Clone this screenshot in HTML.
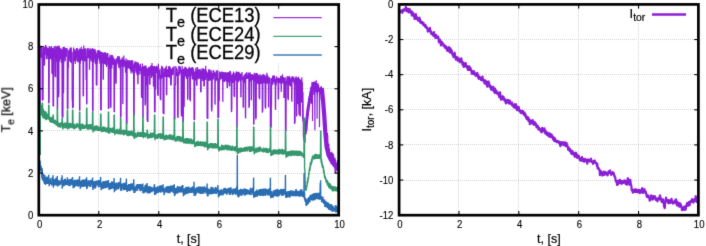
<!DOCTYPE html>
<html><head><meta charset="utf-8"><title>Te and Itor</title>
<style>html,body{margin:0;padding:0;background:#fff;width:706px;height:246px;overflow:hidden}svg{display:block}</style>
</head><body>
<svg width="706" height="246" viewBox="0 0 706 246"><style>
.g{stroke:#d4d4d4;stroke-width:1;stroke-dasharray:1 1;fill:none}
.t{stroke:#000;stroke-width:1.1}
.f{stroke:#000;stroke-width:2.7;fill:none}
text{font-family:"Liberation Sans",sans-serif;fill:#000;stroke:#000;stroke-width:0.2px}
.tl{font-size:9.6px;stroke-width:0.1px}
.al{font-size:12.5px}
.lg{font-size:18.4px;stroke-width:0.25px}
</style><defs><filter id="bl" x="0" y="0" width="706" height="246" filterUnits="userSpaceOnUse"><feConvolveMatrix color-interpolation-filters="sRGB" order="3" kernelMatrix="0.01 0.08 0.01 0.08 0.64 0.08 0.01 0.08 0.01" divisor="1" edgeMode="duplicate"/></filter></defs><g filter="url(#bl)"><rect width="706" height="246" fill="#fff"/><line x1="98.50" y1="5.00" x2="98.50" y2="215.20" class="g"/><line x1="158.50" y1="5.00" x2="158.50" y2="215.20" class="g"/><line x1="218.50" y1="5.00" x2="218.50" y2="215.20" class="g"/><line x1="278.50" y1="5.00" x2="278.50" y2="215.20" class="g"/><line x1="39.00" y1="173.50" x2="338.70" y2="173.50" class="g"/><line x1="39.00" y1="130.50" x2="338.70" y2="130.50" class="g"/><line x1="39.00" y1="88.50" x2="338.70" y2="88.50" class="g"/><line x1="39.00" y1="46.50" x2="338.70" y2="46.50" class="g"/><line x1="458.50" y1="5.00" x2="458.50" y2="215.20" class="g"/><line x1="518.50" y1="5.00" x2="518.50" y2="215.20" class="g"/><line x1="578.50" y1="5.00" x2="578.50" y2="215.20" class="g"/><line x1="638.50" y1="5.00" x2="638.50" y2="215.20" class="g"/><line x1="400.00" y1="39.50" x2="698.40" y2="39.50" class="g"/><line x1="400.00" y1="74.50" x2="698.40" y2="74.50" class="g"/><line x1="400.00" y1="109.50" x2="698.40" y2="109.50" class="g"/><line x1="400.00" y1="144.50" x2="698.40" y2="144.50" class="g"/><line x1="400.00" y1="180.50" x2="698.40" y2="180.50" class="g"/><rect x="162" y="5" width="175.5" height="58.5" fill="#fff"/><rect x="625" y="5" width="72.5" height="17.5" fill="#fff"/><clipPath id="cl"><rect x="38.8" y="4.5" width="299.9" height="210.7"/></clipPath><g clip-path="url(#cl)" fill="none" stroke-linejoin="miter" stroke-miterlimit="1"><polyline points="40.3,104 40.10,52.41 40.22,54.94 40.35,50.83 40.47,49.94 40.60,45.76 40.72,49.31 40.85,53.19 40.97,45.67 41.09,53.14 41.22,57.30 41.34,57.63 41.47,50.60 41.59,46.30 41.72,47.42 41.84,48.91 41.97,59.37 42.09,47.97 42.21,100.03 42.34,99.55 42.46,98.82 42.59,100.64 42.71,99.47 42.84,100.04 42.96,100.14 43.08,99.13 43.21,54.99 43.33,54.56 43.46,45.67 43.58,51.35 43.71,49.14 43.83,59.89 43.95,49.72 44.08,53.72 44.20,57.54 44.33,49.09 44.45,65.30 44.58,65.44 44.70,46.79 44.83,59.14 44.95,47.86 45.07,53.55 45.20,51.11 45.32,46.71 45.45,53.44 45.57,46.08 45.70,44.93 45.82,54.76 45.94,49.12 46.07,53.31 46.19,46.34 46.32,53.92 46.44,52.90 46.57,59.33 46.69,47.37 46.81,59.08 46.94,58.17 47.06,47.98 47.19,48.31 47.31,49.92 47.44,49.23 47.56,55.73 47.68,48.55 47.81,53.11 47.93,47.77 48.06,48.81 48.18,49.71 48.31,58.73 48.43,48.95 48.56,51.29 48.68,103.19 48.80,103.10 48.93,102.73 49.05,102.11 49.18,102.05 49.30,46.00 49.43,47.32 49.55,48.63 49.67,51.00 49.80,46.79 49.92,50.11 50.05,59.32 50.17,47.43 50.30,58.08 50.42,54.73 50.54,56.24 50.67,58.68 50.79,48.21 50.92,52.83 51.04,56.10 51.17,52.69 51.29,49.23 51.42,45.96 51.54,59.51 51.66,52.99 51.79,52.93 51.91,72.52 52.04,73.10 52.16,73.73 52.29,73.85 52.41,49.25 52.53,47.87 52.66,55.45 52.78,52.33 52.91,52.26 53.03,105.77 53.16,105.93 53.28,105.81 53.40,105.68 53.53,106.51 53.65,59.90 53.78,48.98 53.90,47.67 54.03,57.97 54.15,50.93 54.28,55.92 54.40,46.32 54.52,52.32 54.65,51.19 54.77,49.80 54.90,49.71 55.02,75.58 55.15,76.53 55.27,75.96 55.39,76.26 55.52,77.22 55.64,76.63 55.77,45.78 55.89,49.41 56.02,62.07 56.14,56.36 56.26,55.10 56.39,49.67 56.51,49.65 56.64,46.77 56.76,47.10 56.89,48.24 57.01,46.72 57.14,48.07 57.26,107.70 57.38,108.55 57.51,107.74 57.63,109.15 57.76,56.61 57.88,51.64 58.01,45.65 58.13,47.44 58.25,46.44 58.38,46.57 58.50,93.07 58.63,97.21 58.75,93.93 58.88,93.99 59.00,51.23 59.12,45.64 59.25,51.51 59.37,47.38 59.50,61.37 59.62,49.69 59.75,55.90 59.87,50.58 59.99,51.04 60.12,51.68 60.24,48.04 60.37,50.56 60.49,59.58 60.62,56.02 60.74,57.87 60.87,49.41 60.99,58.23 61.11,57.41 61.24,52.91 61.36,62.88 61.49,51.30 61.61,53.98 61.74,48.69 61.86,49.76 61.98,61.40 62.11,115.58 62.23,117.17 62.36,116.89 62.48,115.78 62.61,117.27 62.73,115.67 62.85,117.34 62.98,117.55 63.10,47.06 63.23,56.75 63.35,91.49 63.48,93.27 63.60,90.45 63.73,51.27 63.85,62.99 63.97,55.44 64.10,49.02 64.22,46.80 64.35,53.64 64.47,47.43 64.60,52.89 64.72,47.51 64.84,49.04 64.97,54.48 65.09,56.26 65.22,61.13 65.34,57.51 65.47,53.35 65.59,56.25 65.71,48.17 65.84,51.42 65.96,55.21 66.09,53.03 66.21,50.87 66.34,50.73 66.46,53.93 66.59,54.84 66.71,48.06 66.83,57.29 66.96,48.58 67.08,48.57 67.21,48.52 67.33,108.00 67.46,108.18 67.58,108.88 67.70,108.80 67.83,108.04 67.95,108.89 68.08,68.37 68.20,68.39 68.33,67.97 68.45,68.17 68.57,51.25 68.70,50.22 68.82,53.39 68.95,56.73 69.07,56.06 69.20,52.30 69.32,57.69 69.45,49.19 69.57,54.19 69.69,55.21 69.82,60.81 69.94,60.94 70.07,55.65 70.19,47.95 70.32,56.09 70.44,47.44 70.56,62.48 70.69,48.70 70.81,53.21 70.94,52.88 71.06,50.89 71.19,54.56 71.31,47.53 71.43,59.09 71.56,57.24 71.68,63.18 71.81,52.26 71.93,57.58 72.06,51.69 72.18,98.81 72.30,101.03 72.43,99.13 72.55,108.18 72.68,107.24 72.80,108.27 72.93,107.14 73.05,107.64 73.18,106.97 73.30,106.75 73.42,57.74 73.55,47.57 73.67,50.47 73.80,60.51 73.92,54.13 74.05,53.85 74.17,61.30 74.29,49.16 74.42,51.55 74.54,51.98 74.67,56.61 74.79,60.56 74.92,53.26 75.04,58.90 75.16,57.53 75.29,64.09 75.41,52.90 75.54,54.84 75.66,55.71 75.79,49.87 75.91,61.27 76.04,51.52 76.16,49.11 76.28,53.98 76.41,48.97 76.53,48.19 76.66,56.88 76.78,51.44 76.91,57.71 77.03,55.50 77.15,47.95 77.28,58.08 77.40,61.29 77.53,48.94 77.65,55.51 77.78,51.08 77.90,62.22 78.02,55.00 78.15,53.69 78.27,51.08 78.40,52.52 78.52,57.40 78.65,51.09 78.77,50.95 78.90,57.26 79.02,51.23 79.14,62.37 79.27,48.58 79.39,56.77 79.52,109.34 79.64,109.82 79.77,110.59 79.89,109.80 80.01,51.31 80.14,49.00 80.26,56.13 80.39,63.39 80.51,50.62 80.64,53.92 80.76,53.16 80.88,48.19 81.01,54.02 81.13,60.84 81.26,46.83 81.38,52.91 81.51,53.55 81.63,57.18 81.76,57.69 81.88,60.42 82.00,51.00 82.13,56.61 82.25,57.60 82.38,55.79 82.50,49.01 82.63,56.32 82.75,54.85 82.87,59.95 83.00,55.46 83.12,94.63 83.25,96.45 83.37,94.75 83.50,95.96 83.62,57.95 83.74,45.53 83.87,48.57 83.99,55.49 84.12,48.81 84.24,61.44 84.37,55.29 84.49,50.44 84.61,55.11 84.74,50.99 84.86,57.79 84.99,51.27 85.11,53.52 85.24,48.14 85.36,52.44 85.49,61.12 85.61,49.21 85.73,52.60 85.86,58.01 85.98,63.24 86.11,80.06 86.23,79.49 86.36,79.87 86.48,79.61 86.60,104.05 86.73,104.04 86.85,103.70 86.98,103.87 87.10,49.62 87.23,48.33 87.35,53.35 87.47,49.98 87.60,48.50 87.72,58.19 87.85,50.45 87.97,54.22 88.10,47.93 88.22,49.06 88.35,57.68 88.47,58.14 88.59,54.41 88.72,58.22 88.84,53.35 88.97,54.86 89.09,49.89 89.22,50.71 89.34,52.37 89.46,69.77 89.59,69.49 89.71,54.43 89.84,48.87 89.96,59.04 90.09,49.50 90.21,48.17 90.33,57.03 90.46,59.50 90.58,53.11 90.71,49.81 90.83,55.75 90.96,51.90 91.08,50.29 91.21,61.55 91.33,52.68 91.45,50.85 91.58,54.23 91.70,48.92 91.83,57.70 91.95,51.82 92.08,49.88 92.20,57.61 92.32,48.14 92.45,50.58 92.57,110.59 92.70,111.27 92.82,111.27 92.95,110.75 93.07,110.11 93.19,52.64 93.32,56.97 93.44,50.66 93.57,48.88 93.69,50.67 93.82,51.09 93.94,62.52 94.07,49.07 94.19,55.09 94.31,59.29 94.44,55.06 94.56,50.67 94.69,54.63 94.81,58.50 94.94,55.56 95.06,49.38 95.18,50.55 95.31,53.33 95.43,64.28 95.56,59.84 95.68,56.35 95.81,50.72 95.93,55.43 96.05,59.21 96.18,56.79 96.30,83.83 96.43,85.10 96.55,83.38 96.68,85.66 96.80,82.67 96.92,85.10 97.05,53.83 97.17,53.26 97.30,63.97 97.42,55.97 97.55,60.80 97.67,50.59 97.80,52.70 97.92,53.79 98.04,57.13 98.17,52.96 98.29,55.36 98.42,53.82 98.54,50.12 98.67,52.06 98.79,57.89 98.91,55.09 99.04,55.59 99.16,59.93 99.29,55.57 99.41,50.77 99.54,51.09 99.66,52.27 99.78,63.59 99.91,57.11 100.03,53.70 100.16,55.09 100.28,56.36 100.41,51.37 100.53,51.83 100.66,109.95 100.78,109.63 100.90,110.32 101.03,109.50 101.15,110.28 101.28,109.60 101.40,54.12 101.53,52.12 101.65,63.69 101.77,55.32 101.90,52.37 102.02,63.01 102.15,52.51 102.27,59.85 102.40,52.68 102.52,52.42 102.64,55.89 102.77,54.78 102.89,62.26 103.02,59.56 103.14,79.50 103.27,79.44 103.39,79.58 103.52,54.52 103.64,62.03 103.76,52.45 103.89,60.62 104.01,55.56 104.14,60.14 104.26,63.34 104.39,58.46 104.51,63.44 104.63,63.74 104.76,54.90 104.88,54.05 105.01,52.10 105.13,56.86 105.26,52.52 105.38,53.52 105.50,54.19 105.63,65.04 105.75,56.59 105.88,53.57 106.00,62.12 106.13,58.34 106.25,56.60 106.38,57.61 106.50,56.97 106.62,67.07 106.75,59.74 106.87,60.69 107.00,54.82 107.12,53.01 107.25,60.81 107.37,53.45 107.49,54.48 107.62,53.64 107.74,59.87 107.87,53.09 107.99,65.27 108.12,60.38 108.24,56.91 108.36,108.80 108.49,108.09 108.61,108.22 108.74,108.38 108.86,108.15 108.99,107.87 109.11,64.07 109.23,57.76 109.36,58.15 109.48,68.83 109.61,60.00 109.73,60.64 109.86,55.70 109.98,57.03 110.11,54.47 110.23,67.16 110.35,57.94 110.48,56.78 110.60,106.60 110.73,102.90 110.85,108.05 110.98,105.00 111.10,58.03 111.22,60.19 111.35,61.35 111.47,58.20 111.60,54.97 111.72,56.58 111.85,68.42 111.97,55.38 112.09,57.15 112.22,58.51 112.34,54.92 112.47,58.49 112.59,63.55 112.72,62.67 112.84,56.19 112.97,56.92 113.09,62.44 113.21,64.91 113.34,58.21 113.46,61.60 113.59,64.75 113.71,57.79 113.84,61.41 113.96,60.51 114.08,112.07 114.21,111.46 114.33,111.96 114.46,112.00 114.58,61.05 114.71,59.24 114.83,59.45 114.95,60.87 115.08,67.42 115.20,60.86 115.33,63.91 115.45,64.53 115.58,68.31 115.70,63.16 115.83,83.47 115.95,83.69 116.07,82.70 116.20,82.84 116.32,58.31 116.45,66.47 116.57,58.94 116.70,62.77 116.82,64.25 116.94,60.78 117.07,61.91 117.19,59.96 117.32,57.81 117.44,59.77 117.57,61.14 117.69,58.46 117.81,56.11 117.94,56.63 118.06,56.73 118.19,59.81 118.31,63.64 118.44,64.35 118.56,60.25 118.69,60.78 118.81,68.11 118.93,64.24 119.06,61.76 119.18,57.85 119.31,56.27 119.43,60.03 119.56,58.25 119.68,58.45 119.80,60.05 119.93,65.70 120.05,66.65 120.18,60.38 120.30,70.03 120.43,59.75 120.55,117.71 120.67,116.18 120.80,116.65 120.92,116.03 121.05,116.92 121.17,59.89 121.30,60.48 121.42,65.45 121.54,60.61 121.67,59.23 121.79,65.56 121.92,64.15 122.04,65.61 122.17,57.25 122.29,64.02 122.42,64.44 122.54,67.15 122.66,66.94 122.79,104.06 122.91,103.36 123.04,62.52 123.16,66.29 123.29,59.10 123.41,66.87 123.53,66.56 123.66,60.03 123.78,55.46 123.91,60.09 124.03,67.31 124.16,59.22 124.28,62.13 124.40,61.91 124.53,61.55 124.65,64.86 124.78,60.76 124.90,61.14 125.03,65.81 125.15,62.28 125.28,60.79 125.40,64.07 125.52,72.18 125.65,72.52 125.77,62.54 125.90,69.31 126.02,59.58 126.15,58.40 126.27,69.17 126.39,123.38 126.52,124.04 126.64,123.56 126.77,122.43 126.89,122.51 127.02,123.67 127.14,66.89 127.26,63.23 127.39,62.26 127.51,61.51 127.64,59.68 127.76,68.61 127.89,61.44 128.01,67.81 128.14,61.47 128.26,62.89 128.38,62.15 128.51,67.69 128.63,60.24 128.76,68.35 128.88,60.88 129.01,61.22 129.13,65.02 129.25,65.53 129.38,67.52 129.50,68.41 129.63,68.68 129.75,66.27 129.88,66.77 130.00,60.19 130.12,61.25 130.25,62.14 130.37,63.32 130.50,70.78 130.62,63.64 130.75,61.08 130.87,63.84 131.00,73.51 131.12,69.32 131.24,62.65 131.37,68.55 131.49,67.36 131.62,61.79 131.74,60.13 131.87,62.30 131.99,71.12 132.11,71.59 132.24,71.19 132.36,67.17 132.49,68.77 132.61,66.61 132.74,60.57 132.86,61.11 132.98,73.57 133.11,67.73 133.23,68.15 133.36,64.52 133.48,66.12 133.61,74.78 133.73,115.62 133.85,115.16 133.98,114.05 134.10,114.37 134.23,115.47 134.35,67.95 134.48,63.34 134.60,72.62 134.73,66.49 134.85,62.17 134.97,68.09 135.10,66.49 135.22,61.26 135.35,65.82 135.47,67.24 135.60,68.19 135.72,62.88 135.84,67.30 135.97,67.89 136.09,72.79 136.22,61.65 136.34,68.03 136.47,66.95 136.59,68.53 136.71,66.92 136.84,63.30 136.96,72.86 137.09,75.20 137.21,64.92 137.34,66.29 137.46,64.42 137.59,74.22 137.71,62.01 137.83,84.22 137.96,83.32 138.08,82.99 138.21,66.37 138.33,63.06 138.46,71.58 138.58,70.03 138.70,71.95 138.83,64.34 138.95,66.51 139.08,72.40 139.20,74.77 139.33,68.10 139.45,65.55 139.57,67.89 139.70,70.11 139.82,68.46 139.95,67.05 140.07,65.81 140.20,71.08 140.32,68.51 140.45,63.87 140.57,69.77 140.69,66.75 140.82,71.46 140.94,74.30 141.07,68.71 141.19,67.27 141.32,68.71 141.44,96.52 141.56,95.48 141.69,97.92 141.81,74.33 141.94,73.74 142.06,76.02 142.19,70.92 142.31,72.35 142.43,63.49 142.56,71.91 142.68,72.47 142.81,116.68 142.93,117.21 143.06,116.87 143.18,117.16 143.31,66.36 143.43,68.30 143.55,68.91 143.68,71.11 143.80,66.34 143.93,71.42 144.05,75.99 144.18,72.82 144.30,65.76 144.42,71.54 144.55,74.86 144.67,71.77 144.80,67.78 144.92,66.24 145.05,105.25 145.17,105.22 145.29,103.56 145.42,103.32 145.54,102.83 145.67,70.02 145.79,65.23 145.92,74.10 146.04,67.07 146.16,67.26 146.29,74.33 146.41,68.38 146.54,76.99 146.66,72.87 146.79,85.20 146.91,84.93 147.04,68.40 147.16,120.65 147.28,120.43 147.41,120.61 147.53,120.29 147.66,121.89 147.78,121.24 147.91,121.91 148.03,68.28 148.15,71.33 148.28,74.43 148.40,71.83 148.53,67.00 148.65,67.53 148.78,68.97 148.90,73.00 149.02,75.02 149.15,67.89 149.27,76.04 149.40,67.40 149.52,84.36 149.65,84.27 149.77,84.18 149.90,83.84 150.02,84.79 150.14,70.47 150.27,66.20 150.39,74.31 150.52,71.81 150.64,65.42 150.77,74.35 150.89,65.40 151.01,74.48 151.14,66.79 151.26,71.17 151.39,71.89 151.51,78.01 151.64,66.77 151.76,72.94 151.88,68.71 152.01,63.00 152.13,71.54 152.26,70.41 152.38,71.27 152.51,68.90 152.63,70.87 152.76,76.13 152.88,69.80 153.00,66.08 153.13,68.09 153.25,67.90 153.38,86.25 153.50,86.36 153.63,66.54 153.75,67.95 153.87,78.17 154.00,72.15 154.12,71.18 154.25,75.75 154.37,66.12 154.50,111.95 154.62,111.59 154.74,112.52 154.87,110.73 154.99,111.91 155.12,111.74 155.24,69.41 155.37,69.61 155.49,66.42 155.62,87.82 155.74,89.49 155.86,71.00 155.99,69.35 156.11,71.60 156.24,66.73 156.36,67.15 156.49,68.20 156.61,70.82 156.73,65.65 156.86,69.35 156.98,73.01 157.11,68.16 157.23,66.73 157.36,72.84 157.48,68.40 157.60,93.04 157.73,95.18 157.85,94.55 157.98,94.80 158.10,95.93 158.23,93.49 158.35,63.73 158.47,70.97 158.60,70.59 158.72,79.21 158.85,75.19 158.97,71.92 159.10,70.28 159.22,71.92 159.35,74.60 159.47,72.85 159.59,70.74 159.72,72.15 159.84,74.45 159.97,68.41 160.09,78.62 160.22,97.46 160.34,98.28 160.46,99.56 160.59,99.99 160.71,99.70 160.84,99.81 160.96,74.69 161.09,76.07 161.21,77.10 161.33,79.10 161.46,73.34 161.58,67.26 161.71,65.86 161.83,72.05 161.96,70.81 162.08,77.62 162.21,71.56 162.33,73.25 162.45,77.45 162.58,68.47 162.70,66.79 162.83,71.13 162.95,74.37 163.08,112.85 163.20,112.86 163.32,112.36 163.45,113.93 163.57,112.66 163.70,114.09 163.82,112.55 163.95,114.03 164.07,77.84 164.19,68.68 164.32,68.97 164.44,68.49 164.57,76.62 164.69,71.09 164.82,68.69 164.94,75.21 165.07,69.25 165.19,77.00 165.31,68.44 165.44,73.11 165.56,76.37 165.69,73.27 165.81,67.24 165.94,67.20 166.06,74.30 166.18,74.75 166.31,65.81 166.43,94.20 166.56,94.71 166.68,95.03 166.81,94.32 166.93,72.94 167.05,69.35 167.18,76.32 167.30,74.30 167.43,74.18 167.55,72.07 167.68,70.85 167.80,70.04 167.93,71.66 168.05,77.03 168.17,73.41 168.30,70.27 168.42,66.62 168.55,71.92 168.67,72.77 168.80,75.05 168.92,77.35 169.04,66.64 169.17,73.12 169.29,65.98 169.42,66.78 169.54,73.29 169.67,71.61 169.79,71.90 169.91,66.63 170.04,71.13 170.16,78.79 170.29,73.60 170.41,67.68 170.54,74.18 170.66,84.80 170.78,84.63 170.91,84.23 171.03,84.68 171.16,85.24 171.28,85.29 171.41,76.33 171.53,73.77 171.66,68.86 171.78,70.94 171.90,70.79 172.03,73.26 172.15,71.93 172.28,73.17 172.40,73.18 172.53,67.80 172.65,75.28 172.77,67.37 172.90,73.99 173.02,68.17 173.15,69.37 173.27,69.35 173.40,70.72 173.52,67.55 173.64,71.60 173.77,67.96 173.89,72.30 174.02,73.73 174.14,66.05 174.27,118.78 174.39,119.53 174.52,118.33 174.64,118.09 174.76,119.29 174.89,118.95 175.01,84.06 175.14,85.10 175.26,84.34 175.39,85.07 175.51,84.35 175.63,84.10 175.76,67.62 175.88,66.37 176.01,69.92 176.13,68.16 176.26,70.42 176.38,71.58 176.50,75.88 176.63,74.58 176.75,67.74 176.88,75.31 177.00,70.42 177.13,68.94 177.25,72.62 177.38,77.26 177.50,76.67 177.62,114.87 177.75,117.42 177.87,117.01 178.00,117.82 178.12,116.94 178.25,72.82 178.37,72.15 178.49,74.38 178.62,72.93 178.74,72.26 178.87,66.27 178.99,66.02 179.12,75.34 179.24,74.13 179.36,70.25 179.49,71.03 179.61,66.04 179.74,67.04 179.86,69.69 179.99,67.64 180.11,72.03 180.24,66.55 180.36,73.02 180.48,67.45 180.61,72.62 180.73,70.14 180.86,70.04 180.98,74.85 181.11,69.84 181.23,111.09 181.35,113.24 181.48,116.41 181.60,114.78 181.73,113.06 181.85,115.98 181.98,75.73 182.10,69.37 182.22,65.96 182.35,76.54 182.47,69.49 182.60,75.82 182.72,69.21 182.85,122.23 182.97,121.10 183.09,121.08 183.22,121.80 183.34,122.25 183.47,69.02 183.59,69.15 183.72,75.01 183.84,70.88 183.97,105.88 184.09,106.99 184.21,106.00 184.34,77.27 184.46,69.80 184.59,72.38 184.71,70.57 184.84,66.89 184.96,67.71 185.08,73.75 185.21,76.37 185.33,76.02 185.46,74.56 185.58,67.10 185.71,73.91 185.83,75.01 185.95,71.30 186.08,69.09 186.20,72.90 186.33,67.64 186.45,78.74 186.58,69.20 186.70,72.12 186.83,78.89 186.95,74.18 187.07,69.00 187.20,71.86 187.32,72.07 187.45,75.23 187.57,99.86 187.70,98.81 187.82,96.98 187.94,98.61 188.07,68.48 188.19,74.49 188.32,68.68 188.44,71.95 188.57,73.44 188.69,74.05 188.81,74.65 188.94,69.77 189.06,76.78 189.19,67.04 189.31,67.02 189.44,71.30 189.56,74.89 189.69,70.11 189.81,100.09 189.93,99.13 190.06,98.46 190.18,100.63 190.31,98.98 190.43,101.36 190.56,67.98 190.68,74.31 190.80,68.61 190.93,75.78 191.05,69.78 191.18,72.06 191.30,73.59 191.43,71.29 191.55,72.27 191.67,72.58 191.80,73.19 191.92,67.12 192.05,67.78 192.17,73.67 192.30,79.05 192.42,69.48 192.55,75.10 192.67,67.97 192.79,67.27 192.92,79.66 193.04,68.34 193.17,77.04 193.29,70.37 193.42,68.62 193.54,69.85 193.66,70.99 193.79,72.54 193.91,72.88 194.04,119.13 194.16,120.26 194.29,119.21 194.41,118.95 194.53,119.76 194.66,119.22 194.78,78.34 194.91,71.59 195.03,71.69 195.16,77.34 195.28,74.95 195.41,80.45 195.53,71.89 195.65,75.81 195.78,67.76 195.90,75.21 196.03,71.62 196.15,70.47 196.28,75.27 196.40,72.17 196.52,85.06 196.65,85.40 196.77,84.90 196.90,85.08 197.02,85.62 197.15,70.57 197.27,67.06 197.39,72.01 197.52,67.84 197.64,69.12 197.77,72.23 197.89,78.68 198.02,68.88 198.14,74.19 198.26,72.43 198.39,76.56 198.51,79.23 198.64,75.56 198.76,77.73 198.89,77.78 199.01,75.66 199.14,70.10 199.26,76.33 199.38,72.58 199.51,76.18 199.63,78.59 199.76,68.96 199.88,69.15 200.01,69.84 200.13,70.31 200.25,69.65 200.38,71.13 200.50,74.07 200.63,92.02 200.75,92.01 200.88,91.27 201.00,92.31 201.12,91.09 201.25,75.38 201.37,70.66 201.50,76.28 201.62,79.01 201.75,71.56 201.87,70.95 202.00,68.38 202.12,74.00 202.24,70.94 202.37,72.58 202.49,76.19 202.62,69.51 202.74,81.06 202.87,73.01 202.99,74.29 203.11,69.22 203.24,75.46 203.36,68.31 203.49,72.89 203.61,70.10 203.74,71.85 203.86,85.99 203.98,86.35 204.11,86.06 204.23,85.57 204.36,85.87 204.48,74.47 204.61,77.92 204.73,69.02 204.86,76.84 204.98,73.13 205.10,79.47 205.23,76.02 205.35,74.22 205.48,75.47 205.60,79.89 205.73,65.68 205.85,76.31 205.97,74.27 206.10,70.11 206.22,71.04 206.35,71.86 206.47,75.40 206.60,72.63 206.72,77.55 206.84,72.52 206.97,77.87 207.09,118.32 207.22,117.74 207.34,118.15 207.47,118.37 207.59,117.83 207.72,118.92 207.84,117.63 207.96,73.92 208.09,72.89 208.21,71.88 208.34,76.06 208.46,72.73 208.59,69.82 208.71,76.26 208.83,69.22 208.96,71.41 209.08,77.83 209.21,80.98 209.33,73.42 209.46,75.36 209.58,77.10 209.70,80.52 209.83,69.42 209.95,70.44 210.08,79.04 210.20,77.84 210.33,72.02 210.45,80.23 210.57,79.61 210.70,76.79 210.82,71.47 210.95,77.55 211.07,79.84 211.20,74.12 211.32,70.59 211.45,106.99 211.57,110.21 211.69,110.85 211.82,111.48 211.94,107.77 212.07,107.13 212.19,77.82 212.32,76.52 212.44,74.95 212.56,73.13 212.69,78.34 212.81,73.40 212.94,75.47 213.06,77.23 213.19,70.69 213.31,69.93 213.43,79.40 213.56,73.33 213.68,71.93 213.81,75.57 213.93,75.52 214.06,71.35 214.18,74.31 214.31,75.59 214.43,73.57 214.55,74.77 214.68,73.26 214.80,72.16 214.93,103.13 215.05,103.47 215.18,104.64 215.30,73.64 215.42,76.22 215.55,75.51 215.67,73.37 215.80,81.20 215.92,77.90 216.05,73.11 216.17,81.09 216.29,70.30 216.42,77.00 216.54,77.92 216.67,73.21 216.79,75.27 216.92,72.28 217.04,72.65 217.17,73.96 217.29,79.97 217.41,73.78 217.54,75.37 217.66,70.20 217.79,73.10 217.91,116.74 218.04,117.94 218.16,116.35 218.28,116.26 218.41,116.76 218.53,118.02 218.66,117.06 218.78,80.10 218.91,78.43 219.03,98.92 219.15,101.20 219.28,99.51 219.40,75.16 219.53,71.45 219.65,81.01 219.78,73.05 219.90,76.05 220.03,78.76 220.15,78.49 220.27,74.64 220.40,76.26 220.52,79.60 220.65,72.28 220.77,76.91 220.90,72.50 221.02,74.88 221.14,78.92 221.27,75.36 221.39,75.88 221.52,71.53 221.64,72.14 221.77,76.06 221.89,77.43 222.01,79.29 222.14,74.60 222.26,74.52 222.39,71.72 222.51,75.96 222.64,77.97 222.76,101.87 222.88,99.38 223.01,72.00 223.13,74.75 223.26,76.86 223.38,74.48 223.51,77.97 223.63,77.06 223.76,76.98 223.88,81.82 224.00,72.38 224.13,75.49 224.25,74.80 224.38,75.56 224.50,81.91 224.63,78.31 224.75,74.04 224.87,72.91 225.00,74.12 225.12,78.86 225.25,72.03 225.37,74.21 225.50,74.33 225.62,75.51 225.74,78.01 225.87,81.09 225.99,72.74 226.12,79.92 226.24,75.15 226.37,81.16 226.49,81.49 226.62,80.57 226.74,72.53 226.86,73.51 226.99,78.88 227.11,87.89 227.24,86.98 227.36,87.70 227.49,87.78 227.61,75.62 227.73,79.52 227.86,76.37 227.98,71.94 228.11,81.62 228.23,82.36 228.36,72.87 228.48,74.49 228.60,75.88 228.73,72.77 228.85,72.36 228.98,81.60 229.10,75.72 229.23,72.54 229.35,85.76 229.48,86.45 229.60,85.73 229.72,85.96 229.85,73.37 229.97,70.74 230.10,74.46 230.22,81.45 230.35,71.25 230.47,71.44 230.59,79.73 230.72,80.29 230.84,72.87 230.97,77.70 231.09,80.73 231.22,74.71 231.34,108.34 231.46,111.79 231.59,111.97 231.71,109.01 231.84,108.82 231.96,76.49 232.09,75.90 232.21,78.88 232.34,81.42 232.46,77.38 232.58,74.12 232.71,83.10 232.83,73.85 232.96,73.96 233.08,78.52 233.21,75.67 233.33,76.60 233.45,71.59 233.58,77.51 233.70,75.06 233.83,82.58 233.95,76.81 234.08,96.20 234.20,96.10 234.32,96.33 234.45,95.81 234.57,96.99 234.70,96.68 234.82,79.11 234.95,72.81 235.07,75.96 235.19,76.44 235.32,81.01 235.44,79.41 235.57,77.27 235.69,79.24 235.82,73.28 235.94,74.96 236.07,79.56 236.19,77.22 236.31,72.82 236.44,71.40 236.56,75.01 236.69,73.84 236.81,126.95 236.94,126.79 237.06,127.32 237.18,125.74 237.31,94.71 237.43,74.09 237.56,71.79 237.68,81.38 237.81,72.03 237.93,76.08 238.05,71.90 238.18,78.36 238.30,82.19 238.43,73.75 238.55,81.93 238.68,77.78 238.80,71.75 238.93,79.12 239.05,74.91 239.17,74.88 239.30,79.81 239.42,80.31 239.55,72.67 239.67,76.46 239.80,77.06 239.92,76.58 240.04,74.25 240.17,73.86 240.29,76.18 240.42,81.02 240.54,74.55 240.67,77.93 240.79,97.11 240.91,96.69 241.04,97.39 241.16,76.42 241.29,76.81 241.41,73.60 241.54,78.97 241.66,77.95 241.79,75.56 241.91,74.93 242.03,72.07 242.16,78.76 242.28,77.06 242.41,78.89 242.53,80.53 242.66,77.17 242.78,79.49 242.90,77.51 243.03,78.38 243.15,107.63 243.28,106.46 243.40,105.43 243.53,107.27 243.65,77.90 243.77,75.71 243.90,82.42 244.02,83.21 244.15,76.82 244.27,76.65 244.40,74.79 244.52,77.94 244.65,77.43 244.77,74.27 244.89,76.99 245.02,78.12 245.14,74.81 245.27,81.73 245.39,116.83 245.52,116.94 245.64,118.35 245.76,80.88 245.89,73.12 246.01,78.03 246.14,77.76 246.26,77.23 246.39,73.53 246.51,74.91 246.63,73.36 246.76,72.15 246.88,78.88 247.01,74.79 247.13,79.02 247.26,75.06 247.38,77.47 247.50,78.22 247.63,76.14 247.75,77.22 247.88,78.74 248.00,76.82 248.13,76.29 248.25,74.59 248.38,72.98 248.50,72.53 248.62,74.07 248.75,76.80 248.87,107.45 249.00,107.74 249.12,105.15 249.25,106.46 249.37,106.86 249.49,76.14 249.62,76.71 249.74,72.90 249.87,75.46 249.99,81.37 250.12,72.37 250.24,77.74 250.36,78.32 250.49,79.35 250.61,78.10 250.74,75.09 250.86,78.64 250.99,74.71 251.11,74.75 251.24,99.93 251.36,100.08 251.48,99.19 251.61,80.01 251.73,75.45 251.86,74.24 251.98,75.87 252.11,79.98 252.23,74.09 252.35,75.41 252.48,77.24 252.60,79.34 252.73,76.19 252.85,75.01 252.98,79.08 253.10,76.75 253.22,76.49 253.35,80.40 253.47,75.25 253.60,124.51 253.72,124.43 253.85,123.59 253.97,124.36 254.10,76.39 254.22,72.72 254.34,81.51 254.47,79.54 254.59,75.19 254.72,73.37 254.84,74.62 254.97,77.27 255.09,73.39 255.21,74.68 255.34,79.90 255.46,78.52 255.59,117.56 255.71,114.29 255.84,119.48 255.96,118.50 256.08,117.13 256.21,116.98 256.33,81.88 256.46,73.07 256.58,83.78 256.71,77.24 256.83,81.97 256.96,82.53 257.08,82.75 257.20,75.49 257.33,73.29 257.45,75.38 257.58,80.27 257.70,82.33 257.83,79.45 257.95,79.91 258.07,84.33 258.20,81.24 258.32,74.79 258.45,76.69 258.57,81.81 258.70,77.82 258.82,80.04 258.94,75.39 259.07,97.05 259.19,97.83 259.32,97.11 259.44,97.82 259.57,99.03 259.69,98.86 259.81,77.97 259.94,81.37 260.06,74.12 260.19,78.31 260.31,80.12 260.44,80.84 260.56,83.16 260.69,77.33 260.81,75.67 260.93,82.37 261.06,83.99 261.18,78.92 261.31,80.67 261.43,80.86 261.56,81.48 261.68,78.55 261.80,78.44 261.93,74.77 262.05,78.98 262.18,76.86 262.30,112.66 262.43,109.69 262.55,111.85 262.67,110.16 262.80,110.49 262.92,79.05 263.05,79.88 263.17,75.69 263.30,73.91 263.42,79.46 263.55,77.72 263.67,76.85 263.79,75.29 263.92,82.68 264.04,82.93 264.17,79.68 264.29,81.74 264.42,83.11 264.54,82.93 264.66,76.51 264.79,82.90 264.91,74.65 265.04,77.15 265.16,107.11 265.29,105.56 265.41,108.68 265.53,107.91 265.66,107.87 265.78,107.06 265.91,78.23 266.03,77.28 266.16,76.26 266.28,83.13 266.41,77.26 266.53,76.50 266.65,78.10 266.78,80.00 266.90,72.70 267.03,78.29 267.15,83.72 267.28,75.83 267.40,75.73 267.52,74.73 267.65,80.84 267.77,77.14 267.90,75.78 268.02,81.84 268.15,80.93 268.27,80.58 268.39,80.65 268.52,105.85 268.64,107.37 268.77,77.43 268.89,78.75 269.02,81.36 269.14,83.43 269.27,77.76 269.39,77.38 269.51,78.95 269.64,79.17 269.76,79.53 269.89,78.14 270.01,80.17 270.14,78.50 270.26,83.55 270.38,127.04 270.51,126.16 270.63,127.46 270.76,127.61 270.88,127.29 271.01,127.63 271.13,127.07 271.25,126.58 271.38,102.85 271.50,105.29 271.63,77.96 271.75,80.92 271.88,82.50 272.00,78.87 272.12,85.11 272.25,84.45 272.37,80.65 272.50,79.20 272.62,75.87 272.75,78.27 272.87,80.70 273.00,84.16 273.12,81.48 273.24,81.17 273.37,78.21 273.49,79.14 273.62,76.08 273.74,75.46 273.87,78.77 273.99,80.22 274.11,76.40 274.24,81.91 274.36,79.55 274.49,75.63 274.61,78.99 274.74,79.24 274.86,84.57 274.98,84.32 275.11,81.37 275.23,82.96 275.36,106.86 275.48,109.81 275.61,109.32 275.73,79.99 275.86,79.73 275.98,78.93 276.10,80.61 276.23,85.41 276.35,77.31 276.48,76.23 276.60,80.19 276.73,82.33 276.85,76.73 276.97,79.55 277.10,80.19 277.22,82.40 277.35,78.23 277.47,80.93 277.60,77.93 277.72,81.48 277.84,78.40 277.97,81.58 278.09,83.37 278.22,98.90 278.34,98.44 278.47,99.48 278.59,98.12 278.72,83.34 278.84,77.86 278.96,78.73 279.09,80.18 279.21,81.88 279.34,80.10 279.46,79.90 279.59,82.46 279.71,79.25 279.83,81.87 279.96,77.97 280.08,83.07 280.21,83.14 280.33,78.95 280.46,80.62 280.58,78.64 280.70,75.85 280.83,77.64 280.95,77.77 281.08,85.70 281.20,91.68 281.33,91.46 281.45,78.58 281.58,77.96 281.70,76.32 281.82,78.35 281.95,80.86 282.07,80.15 282.20,77.17 282.32,80.25 282.45,74.31 282.57,83.42 282.69,79.02 282.82,79.35 282.94,79.04 283.07,82.95 283.19,76.75 283.32,81.49 283.44,77.61 283.56,83.28 283.69,78.86 283.81,77.66 283.94,97.92 284.06,96.43 284.19,97.68 284.31,79.12 284.43,78.92 284.56,78.10 284.68,78.24 284.81,80.77 284.93,78.72 285.06,78.90 285.18,77.30 285.31,84.49 285.43,129.91 285.55,130.29 285.68,130.16 285.80,130.97 285.93,130.68 286.05,130.89 286.18,82.31 286.30,82.60 286.42,81.28 286.55,83.27 286.67,81.47 286.80,78.50 286.92,78.75 287.05,78.67 287.17,76.07 287.29,84.50 287.42,77.35 287.54,78.51 287.67,82.06 287.79,98.83 287.92,98.56 288.04,98.60 288.17,98.76 288.29,100.23 288.41,98.94 288.54,76.51 288.66,78.81 288.79,78.91 288.91,79.11 289.04,82.29 289.16,77.24 289.28,76.10 289.41,83.60 289.53,79.19 289.66,76.68 289.78,85.84 289.91,77.73 290.03,83.31 290.15,80.78 290.28,83.63 290.40,82.72 290.53,86.55 290.65,82.36 290.78,79.10 290.90,78.81 291.03,80.48 291.15,82.55 291.27,77.57 291.40,79.55 291.52,80.70 291.65,100.82 291.77,100.02 291.90,101.76 292.02,81.18 292.14,76.17 292.27,77.26 292.39,76.59 292.52,78.33 292.64,78.52 292.77,77.55 292.89,81.68 293.01,80.34 293.14,78.19 293.26,80.16 293.39,78.48 293.51,79.51 293.64,77.53 293.76,76.83 293.89,83.22 294.01,81.48 294.13,79.94 294.26,81.57 294.38,78.98 294.51,124.05 294.63,119.50 294.76,123.36 294.88,120.63 295.00,123.05 295.13,120.23 295.25,77.86 295.38,78.70 295.50,77.76 295.63,78.48 295.75,80.81 295.87,79.92 296.00,76.28 296.12,77.90 296.25,80.16 296.37,84.99 296.50,79.12 296.62,116.03 296.74,116.04 296.87,81.82 296.99,79.98 297.12,77.64 297.24,79.07 297.37,84.52 297.49,80.03 297.62,80.72 297.74,103.46 297.86,103.47 297.99,103.47 298.11,81.42 298.24,80.59 298.36,78.01 298.49,77.16 298.61,77.10 298.73,106.14 298.86,105.31 298.98,114.54 299.11,114.54 299.23,114.55 299.36,114.55 299.48,78.59 299.60,86.32 299.73,83.77 299.85,84.33 299.98,79.43 300.10,116.09 300.23,116.09 300.35,116.10 300.48,79.54 300.60,81.85 300.72,93.57 300.85,94.80 300.97,93.85 301.10,94.05 301.22,94.55 301.35,102.24 301.47,102.24 301.59,102.25 301.72,81.32 301.84,77.25 301.97,84.04 302.09,81.90 302.22,84.45 302.34,85.08 302.46,82.28 302.59,118.49 302.71,118.49 302.84,121.47 302.96,92.12 303.09,103.67 303.21,115.76 303.34,127.66 303.46,137.64 303.58,132.60 303.71,135.00 303.83,131.74 303.96,140.72 304.08,134.74 304.21,131.80 304.33,137.22 304.45,137.72 304.58,125.19 304.70,134.95 304.83,127.63 304.95,140.44 305.08,142.90 305.20,129.05 305.32,131.54 305.45,129.33 305.57,133.92 305.70,131.61 305.82,131.91 305.95,122.53 306.07,128.98 306.20,122.37 306.32,124.08 306.44,126.32 306.57,122.52 306.69,117.60 306.82,130.52 306.94,114.10 307.07,116.20 307.19,117.74 307.31,109.48 307.44,120.64 307.56,114.84 307.69,111.42 307.81,114.54 307.94,113.37 308.06,111.43 308.18,115.19 308.31,110.30 308.43,113.21 308.56,102.19 308.68,109.89 308.81,102.11 308.93,100.90 309.05,97.91 309.18,102.70 309.30,99.88 309.43,96.02 309.55,102.48 309.68,99.95 309.80,102.69 309.93,98.88 310.05,94.55 310.17,93.77 310.30,91.99 310.42,89.96 310.55,90.88 310.67,93.54 310.80,94.71 310.92,86.96 311.04,90.96 311.17,86.57 311.29,103.74 311.42,96.08 311.54,90.00 311.67,95.24 311.79,85.56 311.91,83.75 312.04,81.93 312.16,95.51 312.29,83.68 312.41,87.56 312.54,121.02 312.66,88.67 312.79,90.45 312.91,82.75 313.03,85.38 313.16,85.74 313.28,87.26 313.41,81.69 313.53,89.16 313.66,82.03 313.78,83.67 313.90,88.64 314.03,94.84 314.15,86.93 314.28,88.47 314.40,87.19 314.53,81.61 314.65,83.45 314.77,83.92 314.90,130.28 315.02,89.90 315.15,81.39 315.27,85.47 315.40,87.16 315.52,83.20 315.65,84.68 315.77,91.64 315.89,85.20 316.02,86.07 316.14,92.31 316.27,80.36 316.39,91.14 316.52,92.32 316.64,88.91 316.76,88.40 316.89,84.11 317.01,85.82 317.14,118.70 317.26,85.18 317.39,95.18 317.51,86.95 317.63,86.11 317.76,83.09 317.88,87.73 318.01,86.78 318.13,84.54 318.26,90.14 318.38,92.30 318.51,84.49 318.63,86.49 318.75,86.25 318.88,89.77 319.00,91.55 319.13,89.15 319.25,87.83 319.38,88.76 319.50,127.15 319.62,91.41 319.75,100.54 319.87,96.89 320.00,87.81 320.12,90.57 320.25,89.69 320.37,92.40 320.49,87.26 320.62,91.62 320.74,93.70 320.87,86.89 320.99,92.46 321.12,88.59 321.24,86.31 321.36,88.93 321.49,86.22 321.61,96.01 321.74,96.87 321.86,95.11 321.99,97.95 322.11,94.78 322.24,97.35 322.36,97.23 322.48,96.17 322.61,100.37 322.73,102.95 322.86,101.66 322.98,101.18 323.11,103.66 323.23,104.91 323.35,109.36 323.48,111.69 323.60,105.54 323.73,111.87 323.85,110.33 323.98,108.11 324.10,116.09 324.22,116.78 324.35,121.43 324.47,121.56 324.60,117.75 324.72,117.50 324.85,118.66 324.97,123.24 325.10,123.01 325.22,124.51 325.34,126.15 325.47,127.57 325.59,133.95 325.72,132.01 325.84,132.53 325.97,128.97 326.09,132.22 326.21,129.81 326.34,134.79 326.46,132.51 326.59,136.30 326.71,134.04 326.84,138.92 326.96,135.87 327.08,136.72 327.21,137.35 327.33,137.97 327.46,133.11 327.58,143.25 327.71,135.27 327.83,146.54 327.96,155.88 328.08,145.46 328.20,145.65 328.33,146.86 328.45,145.37 328.58,150.74 328.70,144.80 328.83,143.82 328.95,152.05 329.07,151.20 329.20,150.58 329.32,149.00 329.45,152.43 329.57,148.42 329.70,154.48 329.82,154.14 329.94,153.25 330.07,157.02 330.19,152.02 330.32,156.33 330.44,156.49 330.57,155.71 330.69,157.78 330.82,157.58 330.94,160.89 331.06,153.10 331.19,164.33 331.31,156.59 331.44,159.82 331.56,157.95 331.69,151.70 331.81,153.57 331.93,158.71 332.06,158.48 332.18,157.95 332.31,158.00 332.43,156.13 332.56,162.14 332.68,153.07 332.80,161.93 332.93,161.16 333.05,164.79 333.18,161.35 333.30,156.57 333.43,157.35 333.55,154.29 333.67,161.63 333.80,160.34 333.92,162.40 334.05,164.37 334.17,164.28 334.30,161.12 334.42,163.10 334.55,167.06 334.67,161.85 334.79,159.81 334.92,157.61 335.04,172.76 335.17,167.50 335.29,165.42 335.42,159.42 335.54,162.59 335.66,173.53 335.79,162.56 335.91,165.53 336.04,165.10 336.16,162.68 336.29,165.61 336.41,165.24 336.53,166.93 336.66,164.27 336.78,163.88 336.91,166.35 337.03,163.62 337.16,167.50 337.28,170.82 337.41,160.36 337.53,168.41 337.65,162.05 337.78,168.67 337.90,166.29 338.03,160.82 338.15,164.41 338.28,164.56 338.40,167.65" stroke="#8b1fd6" stroke-width="1.2"/><polyline points="321.8,88 323,100 324.2,115 325.3,132 326.6,147 328.5,155 331,160 334.5,165 338.5,169.5" stroke="#8b1fd6" stroke-width="4.2"/><polyline points="303.6,133 305,134 306.5,122 308.2,108 310,97 312,88" stroke="#8b1fd6" stroke-width="3"/><polyline points="40.3,155 40.10,102.68 40.22,110.55 40.35,103.40 40.47,110.05 40.60,110.47 40.72,111.56 40.85,109.28 40.97,109.28 41.09,105.27 41.22,107.01 41.34,113.49 41.47,115.34 41.59,108.53 41.72,111.00 41.84,108.37 41.97,108.55 42.09,114.34 42.21,103.00 42.34,103.00 42.46,103.00 42.59,107.91 42.71,117.86 42.84,109.37 42.96,108.55 43.08,109.57 43.21,111.04 43.33,114.03 43.46,109.23 43.58,117.89 43.71,113.23 43.83,118.71 43.95,116.13 44.08,111.82 44.20,111.45 44.33,117.47 44.45,115.29 44.58,110.91 44.70,112.72 44.83,111.55 44.95,116.03 45.07,118.84 45.20,114.17 45.32,111.22 45.45,119.39 45.57,118.50 45.70,111.63 45.82,113.88 45.94,114.86 46.07,120.04 46.19,112.12 46.32,120.24 46.44,117.22 46.57,115.49 46.69,115.64 46.81,117.81 46.94,115.10 47.06,115.11 47.19,119.05 47.31,115.52 47.44,119.33 47.56,115.86 47.68,118.53 47.81,113.59 47.93,117.66 48.06,117.04 48.18,119.58 48.31,118.43 48.43,118.84 48.56,115.60 48.68,105.00 48.80,105.00 48.93,105.00 49.05,114.74 49.18,118.44 49.30,118.33 49.43,120.00 49.55,119.23 49.67,117.23 49.80,121.83 49.92,120.82 50.05,117.67 50.17,122.11 50.30,119.96 50.42,119.36 50.54,121.76 50.67,117.23 50.79,117.20 50.92,122.56 51.04,117.48 51.17,119.50 51.29,122.72 51.42,118.82 51.54,122.55 51.66,118.03 51.79,122.42 51.91,117.19 52.04,120.29 52.16,122.93 52.29,122.07 52.41,121.55 52.53,120.40 52.66,122.26 52.78,121.98 52.91,118.72 53.03,115.00 53.16,115.00 53.28,115.00 53.40,118.98 53.53,122.11 53.65,120.84 53.78,121.66 53.90,121.75 54.03,124.05 54.15,123.65 54.28,120.19 54.40,123.96 54.52,123.31 54.65,121.12 54.77,122.64 54.90,119.83 55.02,120.20 55.15,120.84 55.27,123.95 55.39,120.46 55.52,121.06 55.64,122.55 55.77,122.02 55.89,120.84 56.02,122.80 56.14,125.71 56.26,122.83 56.39,125.03 56.51,124.96 56.64,120.92 56.76,123.05 56.89,122.77 57.01,125.11 57.14,124.50 57.26,108.00 57.38,108.00 57.51,108.00 57.63,116.41 57.76,125.31 57.88,126.15 58.01,126.08 58.13,127.13 58.25,122.95 58.38,122.46 58.50,123.89 58.63,125.92 58.75,123.56 58.88,126.11 59.00,125.04 59.12,123.53 59.25,125.17 59.37,124.64 59.50,126.96 59.62,126.76 59.75,123.38 59.87,123.35 59.99,127.17 60.12,127.18 60.24,127.26 60.37,124.32 60.49,122.85 60.62,125.35 60.74,127.79 60.87,125.60 60.99,126.18 61.11,122.27 61.24,124.55 61.36,123.15 61.49,122.59 61.61,123.41 61.74,123.83 61.86,125.11 61.98,125.78 62.11,118.00 62.23,118.00 62.36,118.00 62.48,122.27 62.61,129.28 62.73,129.05 62.85,128.95 62.98,128.64 63.10,126.60 63.23,126.14 63.35,124.26 63.48,127.30 63.60,126.24 63.73,125.10 63.85,123.00 63.97,123.66 64.10,126.65 64.22,125.59 64.35,127.12 64.47,123.14 64.60,126.47 64.72,127.67 64.84,122.58 64.97,128.22 65.09,122.73 65.22,126.72 65.34,125.55 65.47,124.21 65.59,124.45 65.71,122.56 65.84,126.88 65.96,122.48 66.09,128.09 66.21,128.15 66.34,127.35 66.46,123.12 66.59,126.07 66.71,127.22 66.83,124.79 66.96,124.91 67.08,127.12 67.21,122.51 67.33,110.00 67.46,110.00 67.58,110.00 67.70,118.07 67.83,129.49 67.95,125.25 68.08,129.37 68.20,125.14 68.33,126.79 68.45,126.81 68.57,127.25 68.70,126.85 68.82,124.43 68.95,128.17 69.07,123.81 69.20,127.31 69.32,122.84 69.45,128.13 69.57,127.99 69.69,124.28 69.82,126.00 69.94,125.57 70.07,128.23 70.19,124.39 70.32,123.10 70.44,125.00 70.56,124.47 70.69,124.19 70.81,127.26 70.94,124.91 71.06,123.46 71.19,123.73 71.31,127.81 71.43,125.40 71.56,123.83 71.68,125.48 71.81,123.29 71.93,125.50 72.06,124.07 72.18,124.94 72.30,128.21 72.43,125.55 72.55,110.00 72.68,110.00 72.80,110.00 72.93,119.35 73.05,126.13 73.18,127.69 73.30,128.48 73.42,125.87 73.55,128.34 73.67,127.06 73.80,128.62 73.92,128.31 74.05,129.29 74.17,127.68 74.29,123.89 74.42,125.49 74.54,125.74 74.67,128.53 74.79,128.45 74.92,124.53 75.04,128.55 75.16,125.63 75.29,127.15 75.41,127.10 75.54,125.65 75.66,126.42 75.79,125.86 75.91,127.11 76.04,127.95 76.16,126.25 76.28,128.24 76.41,125.99 76.53,123.31 76.66,126.54 76.78,124.92 76.91,127.38 77.03,124.67 77.15,126.82 77.28,124.13 77.40,126.85 77.53,126.57 77.65,127.11 77.78,123.18 77.90,125.68 78.02,127.44 78.15,125.66 78.27,124.75 78.40,127.50 78.52,127.05 78.65,125.66 78.77,128.04 78.90,127.08 79.02,128.96 79.14,126.96 79.27,128.80 79.39,127.45 79.52,112.00 79.64,112.00 79.77,112.00 79.89,122.23 80.01,130.47 80.14,130.38 80.26,129.88 80.39,128.00 80.51,128.34 80.64,128.26 80.76,126.97 80.88,126.59 81.01,129.92 81.13,124.01 81.26,129.09 81.38,124.63 81.51,124.46 81.63,128.32 81.76,123.77 81.88,127.58 82.00,125.03 82.13,128.68 82.25,126.90 82.38,124.87 82.50,126.96 82.63,127.83 82.75,128.50 82.87,123.55 83.00,128.93 83.12,128.32 83.25,124.78 83.37,126.98 83.50,126.51 83.62,126.99 83.74,124.83 83.87,128.87 83.99,127.58 84.12,126.75 84.24,129.02 84.37,125.58 84.49,126.58 84.61,127.15 84.74,127.05 84.86,125.38 84.99,126.93 85.11,125.94 85.24,127.72 85.36,125.56 85.49,126.08 85.61,126.92 85.73,124.52 85.86,126.67 85.98,128.66 86.11,127.57 86.23,126.41 86.36,124.21 86.48,126.87 86.60,108.00 86.73,108.00 86.85,108.00 86.98,121.57 87.10,128.48 87.23,126.28 87.35,129.02 87.47,127.50 87.60,129.73 87.72,129.03 87.85,126.55 87.97,129.22 88.10,127.43 88.22,128.39 88.35,124.50 88.47,125.74 88.59,129.15 88.72,124.15 88.84,128.09 88.97,129.49 89.09,128.98 89.22,124.87 89.34,124.71 89.46,126.19 89.59,124.31 89.71,127.61 89.84,127.87 89.96,128.02 90.09,128.88 90.21,125.88 90.33,124.08 90.46,125.07 90.58,128.90 90.71,124.91 90.83,124.68 90.96,128.15 91.08,127.70 91.21,129.54 91.33,128.93 91.45,129.34 91.58,129.51 91.70,124.24 91.83,129.83 91.95,125.77 92.08,124.78 92.20,129.60 92.32,126.03 92.45,125.14 92.57,112.00 92.70,112.00 92.82,112.00 92.95,123.54 93.07,132.42 93.19,129.66 93.32,127.70 93.44,127.95 93.57,127.05 93.69,128.55 93.82,128.18 93.94,127.45 94.07,128.04 94.19,127.12 94.31,130.59 94.44,130.88 94.56,127.97 94.69,126.03 94.81,127.04 94.94,129.33 95.06,131.05 95.18,129.70 95.31,125.58 95.43,127.24 95.56,125.55 95.68,128.48 95.81,127.48 95.93,127.78 96.05,126.82 96.18,125.66 96.30,129.77 96.43,127.17 96.55,125.55 96.68,126.34 96.80,125.44 96.92,130.34 97.05,126.18 97.17,130.74 97.30,130.95 97.42,125.92 97.55,129.89 97.67,126.50 97.80,129.46 97.92,130.98 98.04,128.01 98.17,126.56 98.29,129.21 98.42,128.92 98.54,126.78 98.67,128.54 98.79,128.38 98.91,127.82 99.04,127.61 99.16,130.89 99.29,129.36 99.41,127.89 99.54,128.82 99.66,129.21 99.78,130.67 99.91,128.20 100.03,130.38 100.16,126.51 100.28,129.92 100.41,129.77 100.53,125.70 100.66,114.00 100.78,114.00 100.90,114.00 101.03,121.71 101.15,128.88 101.28,132.14 101.40,129.25 101.53,127.89 101.65,130.67 101.77,131.96 101.90,131.34 102.02,131.77 102.15,131.13 102.27,129.13 102.40,128.07 102.52,128.73 102.64,131.60 102.77,126.76 102.89,127.04 103.02,131.99 103.14,126.58 103.27,129.78 103.39,131.78 103.52,129.54 103.64,130.85 103.76,126.61 103.89,130.80 104.01,130.07 104.14,130.16 104.26,128.04 104.39,130.03 104.51,130.94 104.63,131.42 104.76,126.88 104.88,131.68 105.01,130.66 105.13,129.68 105.26,130.82 105.38,130.90 105.50,129.75 105.63,131.59 105.75,131.69 105.88,131.31 106.00,127.85 106.13,128.84 106.25,132.02 106.38,129.94 106.50,127.61 106.62,131.39 106.75,127.67 106.87,132.36 107.00,130.58 107.12,132.30 107.25,128.56 107.37,131.95 107.49,128.55 107.62,127.21 107.74,131.24 107.87,132.31 107.99,132.28 108.12,127.62 108.24,130.14 108.36,112.00 108.49,112.00 108.61,112.00 108.74,124.52 108.86,134.00 108.99,131.99 109.11,131.01 109.23,131.27 109.36,130.62 109.48,130.91 109.61,132.08 109.73,129.80 109.86,127.92 109.98,131.74 110.11,130.32 110.23,132.73 110.35,127.71 110.48,132.08 110.60,129.31 110.73,132.33 110.85,129.40 110.98,128.21 111.10,131.30 111.22,128.73 111.35,132.20 111.47,130.75 111.60,132.52 111.72,131.48 111.85,130.17 111.97,131.07 112.09,127.85 112.22,128.12 112.34,129.02 112.47,130.60 112.59,132.87 112.72,127.64 112.84,129.15 112.97,128.15 113.09,132.48 113.21,132.88 113.34,130.94 113.46,128.98 113.59,132.59 113.71,129.68 113.84,131.39 113.96,132.45 114.08,115.00 114.21,115.00 114.33,115.00 114.46,125.13 114.58,130.11 114.71,134.54 114.83,135.05 114.95,131.82 115.08,130.02 115.20,133.16 115.33,130.15 115.45,131.49 115.58,130.78 115.70,133.05 115.83,133.11 115.95,132.30 116.07,131.60 116.20,132.94 116.32,129.60 116.45,129.71 116.57,129.51 116.70,129.60 116.82,131.14 116.94,129.30 117.07,133.92 117.19,128.86 117.32,133.95 117.44,133.13 117.57,131.72 117.69,131.56 117.81,133.17 117.94,130.41 118.06,133.29 118.19,131.04 118.31,133.25 118.44,131.57 118.56,134.30 118.69,132.18 118.81,132.36 118.93,129.95 119.06,134.48 119.18,128.98 119.31,128.78 119.43,130.74 119.56,134.45 119.68,130.22 119.80,129.10 119.93,130.60 120.05,133.24 120.18,133.41 120.30,129.22 120.43,131.24 120.55,118.00 120.67,118.00 120.80,118.00 120.92,126.17 121.05,133.12 121.17,134.21 121.30,134.31 121.42,133.90 121.54,132.63 121.67,131.04 121.79,130.57 121.92,130.63 122.04,134.07 122.17,130.80 122.29,132.41 122.42,131.02 122.54,131.10 122.66,133.90 122.79,134.13 122.91,132.62 123.04,133.13 123.16,133.18 123.29,134.13 123.41,129.43 123.53,131.00 123.66,134.10 123.78,135.32 123.91,133.56 124.03,134.30 124.16,130.53 124.28,129.68 124.40,135.00 124.53,130.91 124.65,131.12 124.78,133.25 124.90,132.56 125.03,134.51 125.15,130.97 125.28,130.61 125.40,130.05 125.52,134.27 125.65,133.47 125.77,133.63 125.90,131.23 126.02,130.84 126.15,133.99 126.27,134.43 126.39,123.00 126.52,123.00 126.64,123.00 126.77,131.06 126.89,132.98 127.02,133.32 127.14,136.08 127.26,135.62 127.39,133.57 127.51,135.92 127.64,135.17 127.76,133.58 127.89,133.85 128.01,132.08 128.14,133.18 128.26,131.40 128.38,133.72 128.51,131.07 128.63,130.66 128.76,136.24 128.88,131.35 129.01,132.41 129.13,135.71 129.25,130.98 129.38,133.88 129.50,133.42 129.63,133.92 129.75,134.32 129.88,133.39 130.00,135.78 130.12,134.25 130.25,131.39 130.37,133.89 130.50,130.79 130.62,132.04 130.75,135.82 130.87,130.85 131.00,132.55 131.12,130.94 131.24,135.81 131.37,130.90 131.49,133.90 131.62,133.31 131.74,135.80 131.87,130.91 131.99,130.73 132.11,135.51 132.24,131.76 132.36,133.27 132.49,136.07 132.61,132.60 132.74,132.00 132.86,135.63 132.98,135.50 133.11,136.65 133.23,135.48 133.36,134.37 133.48,132.08 133.61,135.30 133.73,114.00 133.85,114.00 133.98,114.00 134.10,128.63 134.23,138.92 134.35,135.44 134.48,138.56 134.60,137.53 134.73,136.62 134.85,134.35 134.97,136.70 135.10,134.64 135.22,137.79 135.35,134.43 135.47,137.29 135.60,132.45 135.72,136.86 135.84,135.00 135.97,135.54 136.09,135.62 136.22,137.71 136.34,135.55 136.47,137.44 136.59,136.01 136.71,134.47 136.84,137.22 136.96,136.24 137.09,135.89 137.21,137.17 137.34,132.88 137.46,132.82 137.59,135.31 137.71,133.81 137.83,132.67 137.96,133.35 138.08,131.99 138.21,136.63 138.33,132.45 138.46,131.88 138.58,134.97 138.70,133.25 138.83,132.58 138.95,134.74 139.08,134.13 139.20,133.95 139.33,135.56 139.45,132.65 139.57,134.55 139.70,137.07 139.82,133.79 139.95,135.98 140.07,133.87 140.20,133.08 140.32,133.96 140.45,132.08 140.57,133.35 140.69,133.48 140.82,136.53 140.94,136.67 141.07,136.16 141.19,134.58 141.32,132.09 141.44,135.72 141.56,134.62 141.69,136.42 141.81,134.50 141.94,131.94 142.06,134.73 142.19,132.41 142.31,136.91 142.43,131.98 142.56,134.24 142.68,132.50 142.81,116.00 142.93,116.00 143.06,116.00 143.18,126.14 143.31,138.14 143.43,135.23 143.55,134.82 143.68,135.03 143.80,132.63 143.93,136.45 144.05,135.44 144.18,135.81 144.30,133.93 144.42,132.38 144.55,135.92 144.67,136.87 144.80,134.29 144.92,134.30 145.05,133.41 145.17,133.20 145.29,136.22 145.42,135.00 145.54,137.61 145.67,135.41 145.79,132.85 145.92,133.35 146.04,135.76 146.16,133.89 146.29,135.93 146.41,135.65 146.54,136.39 146.66,135.33 146.79,134.72 146.91,134.76 147.04,133.35 147.16,130.00 147.28,130.00 147.41,130.00 147.53,133.49 147.66,138.66 147.78,134.35 147.91,137.13 148.03,138.38 148.15,136.65 148.28,138.29 148.40,133.76 148.53,138.49 148.65,134.52 148.78,136.83 148.90,138.28 149.02,135.83 149.15,134.17 149.27,138.19 149.40,133.90 149.52,136.54 149.65,135.75 149.77,135.28 149.90,136.78 150.02,137.61 150.14,137.76 150.27,136.74 150.39,136.97 150.52,132.31 150.64,134.32 150.77,135.42 150.89,134.91 151.01,137.61 151.14,137.50 151.26,134.95 151.39,137.53 151.51,134.22 151.64,136.79 151.76,132.93 151.88,137.96 152.01,134.82 152.13,137.88 152.26,133.68 152.38,133.83 152.51,133.85 152.63,133.93 152.76,132.74 152.88,136.85 153.00,135.24 153.13,135.27 153.25,133.82 153.38,135.10 153.50,134.99 153.63,132.40 153.75,134.08 153.87,133.34 154.00,134.09 154.12,134.87 154.25,138.15 154.37,134.58 154.50,115.00 154.62,115.00 154.74,115.00 154.87,129.84 154.99,140.28 155.12,135.45 155.24,139.02 155.37,136.33 155.49,136.44 155.62,134.67 155.74,134.75 155.86,137.79 155.99,135.01 156.11,137.42 156.24,135.65 156.36,137.22 156.49,137.11 156.61,134.65 156.73,138.66 156.86,137.47 156.98,136.57 157.11,136.85 157.23,136.99 157.36,135.25 157.48,136.72 157.60,134.04 157.73,138.89 157.85,137.20 157.98,137.58 158.10,137.44 158.23,138.05 158.35,135.77 158.47,134.55 158.60,133.25 158.72,136.07 158.85,133.96 158.97,135.78 159.10,133.42 159.22,137.61 159.35,135.16 159.47,134.86 159.59,137.77 159.72,135.42 159.84,135.84 159.97,136.98 160.09,133.31 160.22,134.94 160.34,138.95 160.46,137.15 160.59,133.91 160.71,138.71 160.84,138.61 160.96,137.01 161.09,133.29 161.21,135.64 161.33,135.47 161.46,134.28 161.58,136.78 161.71,134.94 161.83,137.19 161.96,134.72 162.08,138.62 162.21,134.91 162.33,133.41 162.45,138.29 162.58,134.65 162.70,133.62 162.83,138.92 162.95,135.28 163.08,117.00 163.20,117.00 163.32,117.00 163.45,129.04 163.57,137.65 163.70,137.29 163.82,136.53 163.95,139.03 164.07,137.89 164.19,140.58 164.32,137.42 164.44,138.13 164.57,137.34 164.69,136.56 164.82,135.27 164.94,138.32 165.07,136.49 165.19,140.04 165.31,138.49 165.44,138.31 165.56,139.63 165.69,135.63 165.81,139.69 165.94,139.22 166.06,135.50 166.18,135.67 166.31,134.63 166.43,136.95 166.56,135.00 166.68,139.05 166.81,135.90 166.93,135.59 167.05,139.60 167.18,136.06 167.30,136.19 167.43,137.48 167.55,137.37 167.68,135.97 167.80,137.82 167.93,135.47 168.05,138.12 168.17,136.03 168.30,135.53 168.42,136.21 168.55,135.75 168.67,138.87 168.80,138.65 168.92,134.87 169.04,139.47 169.17,139.02 169.29,134.80 169.42,137.13 169.54,137.32 169.67,137.22 169.79,134.39 169.91,139.64 170.04,136.80 170.16,138.56 170.29,137.52 170.41,139.72 170.54,136.06 170.66,138.44 170.78,136.21 170.91,139.77 171.03,136.15 171.16,134.63 171.28,137.23 171.41,138.52 171.53,136.80 171.66,138.79 171.78,138.78 171.90,135.77 172.03,136.83 172.15,140.25 172.28,137.51 172.40,139.62 172.53,136.84 172.65,135.84 172.77,139.68 172.90,137.21 173.02,134.66 173.15,138.67 173.27,137.72 173.40,139.42 173.52,140.23 173.64,138.66 173.77,135.41 173.89,135.23 174.02,139.67 174.14,139.00 174.27,118.00 174.39,118.00 174.52,118.00 174.64,132.83 174.76,139.60 174.89,140.23 175.01,138.44 175.14,137.10 175.26,141.66 175.39,137.29 175.51,139.30 175.63,140.13 175.76,139.00 175.88,141.26 176.01,137.38 176.13,141.17 176.26,140.93 176.38,139.04 176.50,138.26 176.63,140.81 176.75,138.63 176.88,141.36 177.00,136.61 177.13,136.30 177.25,136.72 177.38,140.60 177.50,138.23 177.62,138.44 177.75,139.60 177.87,136.90 178.00,138.29 178.12,139.26 178.25,135.89 178.37,138.29 178.49,139.18 178.62,138.21 178.74,136.94 178.87,136.18 178.99,141.34 179.12,140.48 179.24,139.08 179.36,140.12 179.49,136.03 179.61,141.74 179.74,137.91 179.86,138.56 179.99,136.37 180.11,137.88 180.24,136.72 180.36,138.02 180.48,138.52 180.61,139.62 180.73,136.89 180.86,141.22 180.98,141.68 181.11,136.98 181.23,137.11 181.35,140.83 181.48,138.23 181.60,137.89 181.73,137.89 181.85,137.46 181.98,141.66 182.10,140.31 182.22,137.71 182.35,142.29 182.47,138.43 182.60,140.97 182.72,140.83 182.85,121.00 182.97,121.00 183.09,121.00 183.22,131.92 183.34,140.49 183.47,139.92 183.59,141.24 183.72,143.02 183.84,142.96 183.97,140.33 184.09,138.81 184.21,141.74 184.34,142.82 184.46,138.61 184.59,139.14 184.71,140.92 184.84,139.34 184.96,140.40 185.08,139.16 185.21,142.17 185.33,142.58 185.46,143.57 185.58,138.17 185.71,138.77 185.83,143.05 185.95,141.96 186.08,141.93 186.20,138.02 186.33,143.70 186.45,139.74 186.58,138.21 186.70,138.53 186.83,138.73 186.95,141.66 187.07,140.31 187.20,139.67 187.32,138.89 187.45,139.53 187.57,142.63 187.70,140.08 187.82,138.00 187.94,143.76 188.07,143.55 188.19,140.16 188.32,141.78 188.44,138.57 188.57,141.37 188.69,138.37 188.81,139.45 188.94,143.57 189.06,138.89 189.19,141.21 189.31,141.63 189.44,139.48 189.56,143.79 189.69,141.16 189.81,138.71 189.93,142.74 190.06,141.06 190.18,139.34 190.31,140.42 190.43,141.61 190.56,141.28 190.68,140.98 190.80,138.48 190.93,139.05 191.05,140.92 191.18,144.19 191.30,139.55 191.43,139.96 191.55,141.25 191.67,140.42 191.80,143.76 191.92,143.07 192.05,142.72 192.17,139.55 192.30,140.91 192.42,143.39 192.55,142.07 192.67,139.68 192.79,143.81 192.92,144.23 193.04,143.36 193.17,142.41 193.29,139.94 193.42,141.06 193.54,141.61 193.66,142.38 193.79,142.22 193.91,139.96 194.04,122.00 194.16,122.00 194.29,122.00 194.41,134.42 194.53,144.26 194.66,144.13 194.78,147.12 194.91,143.19 195.03,146.03 195.16,146.22 195.28,142.13 195.41,146.55 195.53,144.54 195.65,146.14 195.78,145.66 195.90,143.85 196.03,145.88 196.15,142.82 196.28,142.74 196.40,144.30 196.52,142.98 196.65,141.99 196.77,145.42 196.90,145.42 197.02,141.17 197.15,144.77 197.27,145.98 197.39,145.35 197.52,141.47 197.64,141.12 197.77,143.19 197.89,145.79 198.02,145.88 198.14,140.75 198.26,145.81 198.39,144.34 198.51,144.41 198.64,141.98 198.76,144.24 198.89,146.06 199.01,144.00 199.14,145.92 199.26,144.63 199.38,142.04 199.51,142.70 199.63,142.18 199.76,142.42 199.88,144.58 200.01,143.56 200.13,145.96 200.25,141.89 200.38,141.52 200.50,141.29 200.63,142.23 200.75,144.94 200.88,141.78 201.00,144.54 201.12,146.13 201.25,144.49 201.37,142.08 201.50,145.32 201.62,145.77 201.75,143.99 201.87,143.17 202.00,144.48 202.12,141.56 202.24,144.83 202.37,142.35 202.49,144.74 202.62,142.87 202.74,143.24 202.87,146.48 202.99,143.10 203.11,145.71 203.24,141.77 203.36,145.19 203.49,141.66 203.61,144.17 203.74,146.39 203.86,142.83 203.98,142.92 204.11,146.62 204.23,143.83 204.36,145.03 204.48,145.52 204.61,145.60 204.73,147.01 204.86,146.97 204.98,141.92 205.10,141.80 205.23,145.83 205.35,142.71 205.48,145.62 205.60,142.25 205.73,144.27 205.85,144.15 205.97,144.18 206.10,144.89 206.22,142.45 206.35,144.31 206.47,147.48 206.60,142.12 206.72,146.37 206.84,145.11 206.97,142.92 207.09,122.00 207.22,122.00 207.34,122.00 207.47,134.42 207.59,150.24 207.72,149.73 207.84,147.12 207.96,146.85 208.09,146.24 208.21,147.20 208.34,147.41 208.46,148.07 208.59,144.45 208.71,148.80 208.83,143.89 208.96,148.80 209.08,144.60 209.21,146.11 209.33,148.10 209.46,145.26 209.58,143.78 209.70,147.07 209.83,147.32 209.95,145.44 210.08,146.87 210.20,147.89 210.33,143.02 210.45,146.74 210.57,146.57 210.70,145.57 210.82,144.08 210.95,144.88 211.07,145.26 211.20,147.61 211.32,147.17 211.45,145.82 211.57,144.62 211.69,147.90 211.82,143.09 211.94,144.95 212.07,144.79 212.19,145.66 212.32,143.12 212.44,145.32 212.56,143.70 212.69,143.22 212.81,148.61 212.94,147.69 213.06,144.82 213.19,146.65 213.31,144.27 213.43,148.02 213.56,146.59 213.68,145.45 213.81,144.59 213.93,145.48 214.06,147.27 214.18,147.45 214.31,143.28 214.43,148.58 214.55,146.00 214.68,148.21 214.80,143.33 214.93,147.98 215.05,146.44 215.18,143.59 215.30,143.06 215.42,144.44 215.55,148.36 215.67,146.88 215.80,144.99 215.92,144.86 216.05,147.27 216.17,145.44 216.29,143.66 216.42,146.85 216.54,146.11 216.67,148.23 216.79,143.76 216.92,147.03 217.04,147.69 217.17,146.15 217.29,147.87 217.41,148.38 217.54,147.52 217.66,144.43 217.79,144.02 217.91,119.00 218.04,119.00 218.16,119.00 218.28,139.53 218.41,149.93 218.53,148.04 218.66,149.82 218.78,146.16 218.91,151.14 219.03,151.12 219.15,149.75 219.28,146.54 219.40,147.27 219.53,150.58 219.65,147.27 219.78,150.02 219.90,150.35 220.03,149.44 220.15,147.01 220.27,148.81 220.40,150.12 220.52,149.27 220.65,149.81 220.77,150.09 220.90,148.07 221.02,148.85 221.14,148.19 221.27,150.56 221.39,145.40 221.52,144.99 221.64,149.40 221.77,149.24 221.89,148.29 222.01,144.79 222.14,146.47 222.26,149.54 222.39,145.53 222.51,144.79 222.64,150.27 222.76,147.75 222.88,145.27 223.01,146.71 223.13,149.47 223.26,149.44 223.38,146.04 223.51,148.98 223.63,146.49 223.76,145.59 223.88,147.83 224.00,146.67 224.13,148.97 224.25,149.63 224.38,150.11 224.50,148.84 224.63,146.55 224.75,146.49 224.87,145.57 225.00,147.18 225.12,148.78 225.25,144.78 225.37,145.16 225.50,148.50 225.62,146.00 225.74,147.70 225.87,147.58 225.99,145.52 226.12,149.63 226.24,147.25 226.37,144.79 226.49,149.65 226.62,148.81 226.74,145.57 226.86,149.23 226.99,145.32 227.11,147.44 227.24,148.52 227.36,150.40 227.49,150.17 227.61,149.80 227.73,150.08 227.86,145.41 227.98,145.04 228.11,145.41 228.23,148.71 228.36,145.05 228.48,145.97 228.60,145.12 228.73,148.46 228.85,148.75 228.98,146.21 229.10,146.33 229.23,150.52 229.35,147.42 229.48,146.49 229.60,148.84 229.72,149.12 229.85,148.00 229.97,145.52 230.10,146.53 230.22,149.65 230.35,146.66 230.47,146.01 230.59,146.71 230.72,149.43 230.84,150.37 230.97,150.18 231.09,150.29 231.22,150.34 231.34,150.78 231.46,150.11 231.59,148.85 231.71,146.99 231.84,151.02 231.96,146.57 232.09,147.16 232.21,149.74 232.34,147.89 232.46,145.62 232.58,148.56 232.71,150.47 232.83,148.45 232.96,149.87 233.08,146.62 233.21,149.99 233.33,147.41 233.45,147.59 233.58,149.81 233.70,148.79 233.83,148.08 233.95,147.66 234.08,147.42 234.20,150.70 234.32,149.00 234.45,150.12 234.57,151.20 234.70,148.34 234.82,149.86 234.95,146.19 235.07,148.64 235.19,149.71 235.32,150.19 235.44,149.40 235.57,148.60 235.69,151.24 235.82,146.93 235.94,149.89 236.07,148.19 236.19,146.02 236.31,151.67 236.44,150.38 236.56,150.83 236.69,146.59 236.81,126.00 236.94,126.00 237.06,126.00 237.18,143.67 237.31,153.75 237.43,154.16 237.56,151.54 237.68,152.84 237.81,153.19 237.93,152.00 238.05,153.87 238.18,150.74 238.30,148.61 238.43,150.49 238.55,150.87 238.68,152.13 238.80,152.47 238.93,147.88 239.05,148.92 239.17,148.39 239.30,152.64 239.42,147.95 239.55,152.30 239.67,148.36 239.80,152.18 239.92,150.07 240.04,151.71 240.17,152.53 240.29,152.69 240.42,147.45 240.54,152.01 240.67,151.18 240.79,148.91 240.91,148.03 241.04,150.54 241.16,150.78 241.29,147.53 241.41,150.90 241.54,149.86 241.66,150.58 241.79,151.41 241.91,149.27 242.03,151.90 242.16,149.86 242.28,148.11 242.41,148.66 242.53,148.22 242.66,151.91 242.78,150.25 242.90,149.57 243.03,151.71 243.15,149.92 243.28,149.36 243.40,148.98 243.53,151.39 243.65,149.37 243.77,148.51 243.90,147.54 244.02,148.06 244.15,150.82 244.27,147.55 244.40,151.23 244.52,150.98 244.65,147.72 244.77,146.99 244.89,151.17 245.02,149.66 245.14,151.16 245.27,151.70 245.39,147.33 245.52,150.02 245.64,147.74 245.76,149.12 245.89,146.96 246.01,150.84 246.14,148.49 246.26,147.09 246.39,146.93 246.51,148.63 246.63,147.99 246.76,150.27 246.88,147.22 247.01,147.98 247.13,151.53 247.26,148.21 247.38,146.94 247.50,147.30 247.63,151.38 247.75,147.13 247.88,147.40 248.00,149.52 248.13,148.29 248.25,146.45 248.38,148.57 248.50,147.42 248.62,148.53 248.75,149.47 248.87,149.01 249.00,146.89 249.12,150.03 249.25,147.38 249.37,150.80 249.49,149.04 249.62,146.40 249.74,151.86 249.87,147.57 249.99,146.20 250.12,151.02 250.24,148.61 250.36,148.29 250.49,150.51 250.61,151.88 250.74,146.97 250.86,150.71 250.99,151.78 251.11,151.51 251.24,147.91 251.36,146.45 251.48,149.06 251.61,149.70 251.73,147.51 251.86,149.57 251.98,146.34 252.11,151.06 252.23,148.18 252.35,146.44 252.48,147.70 252.60,151.25 252.73,147.25 252.85,147.62 252.98,148.09 253.10,148.64 253.22,147.22 253.35,147.45 253.47,150.69 253.60,127.00 253.72,127.00 253.85,127.00 253.97,140.31 254.10,152.10 254.22,152.50 254.34,154.33 254.47,152.59 254.59,153.40 254.72,150.71 254.84,150.04 254.97,152.56 255.09,151.60 255.21,150.57 255.34,148.55 255.46,150.45 255.59,148.24 255.71,151.89 255.84,148.96 255.96,150.61 256.08,150.24 256.21,147.51 256.33,152.93 256.46,148.51 256.58,151.51 256.71,152.54 256.83,149.92 256.96,149.02 257.08,147.59 257.20,148.79 257.33,149.63 257.45,149.27 257.58,148.21 257.70,150.45 257.83,151.33 257.95,149.11 258.07,148.15 258.20,148.50 258.32,147.90 258.45,152.23 258.57,151.65 258.70,147.14 258.82,147.38 258.94,151.34 259.07,149.40 259.19,148.41 259.32,151.88 259.44,148.88 259.57,148.99 259.69,151.48 259.81,150.73 259.94,149.57 260.06,146.63 260.19,149.42 260.31,151.24 260.44,149.54 260.56,147.49 260.69,150.09 260.81,150.99 260.93,149.53 261.06,149.42 261.18,151.12 261.31,148.54 261.43,148.29 261.56,148.97 261.68,148.65 261.80,150.49 261.93,151.04 262.05,149.65 262.18,152.02 262.30,151.69 262.43,151.65 262.55,150.97 262.67,152.23 262.80,148.48 262.92,150.81 263.05,149.16 263.17,149.36 263.30,152.46 263.42,149.95 263.55,150.29 263.67,147.63 263.79,151.48 263.92,148.61 264.04,149.54 264.17,148.47 264.29,150.82 264.42,148.40 264.54,150.38 264.66,149.58 264.79,150.48 264.91,152.20 265.04,149.96 265.16,150.69 265.29,150.61 265.41,148.40 265.53,152.08 265.66,150.28 265.78,152.15 265.91,147.68 266.03,150.30 266.16,149.20 266.28,147.90 266.41,152.91 266.53,151.31 266.65,152.55 266.78,150.92 266.90,149.51 267.03,150.35 267.15,148.23 267.28,151.16 267.40,151.47 267.52,150.81 267.65,152.01 267.77,149.45 267.90,152.87 268.02,151.61 268.15,149.14 268.27,151.67 268.39,151.81 268.52,153.06 268.64,150.64 268.77,149.26 268.89,148.73 269.02,149.87 269.14,150.41 269.27,152.27 269.39,148.39 269.51,148.70 269.64,152.32 269.76,149.25 269.89,148.28 270.01,148.67 270.14,151.87 270.26,151.53 270.38,127.00 270.51,127.00 270.63,127.00 270.76,142.52 270.88,155.62 271.01,153.74 271.13,151.03 271.25,150.63 271.38,155.91 271.50,153.11 271.63,155.53 271.75,150.96 271.88,152.82 272.00,153.99 272.12,150.30 272.25,153.07 272.37,155.29 272.50,151.18 272.62,151.13 272.75,151.05 272.87,152.54 273.00,151.40 273.12,152.82 273.24,154.91 273.37,149.85 273.49,154.67 273.62,153.71 273.74,152.82 273.87,151.29 273.99,153.51 274.11,149.93 274.24,149.22 274.36,152.33 274.49,150.25 274.61,150.57 274.74,150.73 274.86,150.88 274.98,152.19 275.11,153.86 275.23,154.05 275.36,151.85 275.48,149.74 275.61,150.85 275.73,154.35 275.86,149.54 275.98,153.39 276.10,152.08 276.23,153.19 276.35,153.34 276.48,151.98 276.60,153.44 276.73,153.36 276.85,153.52 276.97,153.75 277.10,149.59 277.22,151.48 277.35,154.37 277.47,150.36 277.60,150.61 277.72,153.55 277.84,153.12 277.97,153.27 278.09,153.55 278.22,154.39 278.34,149.61 278.47,151.74 278.59,151.05 278.72,150.99 278.84,153.54 278.96,154.35 279.09,152.69 279.21,148.85 279.34,151.08 279.46,154.12 279.59,151.69 279.71,149.99 279.83,149.44 279.96,149.84 280.08,149.24 280.21,153.40 280.33,152.58 280.46,152.36 280.58,153.18 280.70,151.41 280.83,153.26 280.95,153.37 281.08,152.68 281.20,149.88 281.33,154.31 281.45,151.66 281.58,152.99 281.70,150.39 281.82,149.51 281.95,149.20 282.07,149.24 282.20,154.45 282.32,149.41 282.45,149.74 282.57,154.09 282.69,149.01 282.82,153.67 282.94,153.39 283.07,154.17 283.19,152.66 283.32,150.46 283.44,154.66 283.56,153.44 283.69,150.55 283.81,150.62 283.94,153.42 284.06,152.21 284.19,154.16 284.31,151.14 284.43,150.23 284.56,153.35 284.68,149.50 284.81,150.89 284.93,151.53 285.06,152.36 285.18,152.12 285.31,154.25 285.43,130.00 285.55,130.00 285.68,130.00 285.80,141.82 285.93,154.34 286.05,157.67 286.18,153.71 286.30,153.04 286.42,153.78 286.55,155.73 286.67,154.87 286.80,152.98 286.92,156.66 287.05,156.73 287.17,155.95 287.29,152.98 287.42,151.56 287.54,154.83 287.67,154.87 287.79,156.14 287.92,151.15 288.04,152.30 288.17,156.22 288.29,156.52 288.41,152.78 288.54,155.72 288.66,155.41 288.79,151.35 288.91,155.04 289.04,152.95 289.16,152.46 289.28,154.63 289.41,153.01 289.53,155.55 289.66,152.11 289.78,151.87 289.91,150.91 290.03,155.28 290.15,152.59 290.28,150.77 290.40,155.94 290.53,151.27 290.65,151.62 290.78,154.19 290.90,155.85 291.03,155.81 291.15,155.94 291.27,152.26 291.40,152.31 291.52,150.65 291.65,154.67 291.77,155.16 291.90,150.41 292.02,152.14 292.14,155.33 292.27,152.61 292.39,154.77 292.52,152.64 292.64,155.73 292.77,150.77 292.89,154.42 293.01,155.59 293.14,154.77 293.26,155.08 293.39,152.07 293.51,153.38 293.64,153.13 293.76,150.47 293.89,154.77 294.01,150.66 294.13,151.57 294.26,151.92 294.38,155.59 294.51,155.47 294.63,152.26 294.76,152.41 294.88,151.34 295.00,151.90 295.13,150.80 295.25,155.53 295.38,152.30 295.50,151.52 295.63,150.90 295.75,151.21 295.87,150.59 296.00,152.72 296.12,155.09 296.25,155.64 296.37,151.82 296.50,151.08 296.62,152.60 296.74,150.60 296.87,155.09 296.99,152.24 297.12,152.24 297.24,155.51 297.37,155.83 297.49,155.68 297.62,153.44 297.74,152.48 297.86,151.05 297.99,156.01 298.11,150.82 298.24,155.29 298.36,155.48 298.49,155.25 298.61,155.47 298.73,153.10 298.86,155.59 298.98,152.75 299.11,156.06 299.23,151.03 299.36,155.65 299.48,152.90 299.60,154.04 299.73,151.00 299.85,150.88 299.98,151.40 300.10,152.12 300.23,152.56 300.35,154.49 300.48,153.28 300.60,154.39 300.72,152.46 300.85,151.51 300.97,155.25 301.10,154.29 301.22,155.91 301.35,156.17 301.47,153.61 301.59,152.13 301.72,152.01 301.84,153.58 301.97,152.72 302.09,155.58 302.22,154.21 302.34,154.86 302.46,153.56 302.59,156.02 302.71,154.55 302.84,156.46 302.96,154.34 303.09,156.57 303.21,156.54 303.34,153.67 303.46,153.87 303.58,157.94 303.71,154.78 303.83,156.18 303.96,157.92 304.08,118.00 304.21,118.00 304.33,118.00 304.45,140.09 304.58,166.76 304.70,170.41 304.83,170.32 304.95,173.09 305.08,178.93 305.20,182.17 305.32,187.76 305.45,189.90 305.57,189.21 305.70,189.94 305.82,188.13 305.95,190.90 306.07,188.81 306.20,189.45 306.32,185.30 306.44,189.60 306.57,185.83 306.69,186.24 306.82,186.55 306.94,185.44 307.07,186.15 307.19,181.08 307.31,183.85 307.44,184.38 307.56,182.79 307.69,182.33 307.81,177.83 307.94,177.90 308.06,181.43 308.18,177.07 308.31,178.06 308.43,176.99 308.56,178.60 308.68,174.19 308.81,172.99 308.93,173.65 309.05,174.70 309.18,170.84 309.30,169.21 309.43,169.15 309.55,171.31 309.68,167.08 309.80,169.14 309.93,170.55 310.05,169.38 310.17,165.11 310.30,163.20 310.42,162.85 310.55,166.71 310.67,166.37 310.80,162.07 310.92,164.54 311.04,161.62 311.17,161.84 311.29,162.68 311.42,164.59 311.54,159.04 311.67,162.31 311.79,162.81 311.91,160.01 312.04,162.09 312.16,158.67 312.29,156.45 312.41,158.44 312.54,158.70 312.66,159.17 312.79,155.89 312.91,155.68 313.03,155.98 313.16,155.90 313.28,156.11 313.41,158.29 313.53,156.60 313.66,159.32 313.78,159.18 313.90,159.11 314.03,158.70 314.15,159.37 314.28,156.77 314.40,155.89 314.53,156.09 314.65,154.26 314.77,154.55 314.90,159.05 315.02,157.61 315.15,158.57 315.27,158.58 315.40,158.28 315.52,155.66 315.65,153.85 315.77,156.01 315.89,159.07 316.02,154.22 316.14,156.56 316.27,154.45 316.39,158.10 316.52,158.26 316.64,154.14 316.76,157.04 316.89,159.06 317.01,155.25 317.14,156.26 317.26,155.90 317.39,155.59 317.51,156.25 317.63,154.53 317.76,156.25 317.88,155.90 318.01,158.70 318.13,155.56 318.26,158.49 318.38,157.34 318.51,158.53 318.63,158.68 318.75,158.24 318.88,155.98 319.00,157.13 319.13,154.27 319.25,158.65 319.38,158.14 319.50,156.16 319.62,158.12 319.75,157.25 319.87,154.15 320.00,155.65 320.12,154.34 320.25,157.75 320.37,159.24 320.49,155.72 320.62,131.00 320.74,131.00 320.87,131.00 320.99,145.96 321.12,162.45 321.24,161.29 321.36,159.89 321.49,163.40 321.61,159.03 321.74,162.12 321.86,163.09 321.99,165.83 322.11,162.64 322.24,166.68 322.36,163.85 322.48,167.65 322.61,166.19 322.73,165.31 322.86,167.17 322.98,168.16 323.11,167.54 323.23,166.66 323.35,166.65 323.48,170.09 323.60,173.07 323.73,168.97 323.85,170.46 323.98,172.65 324.10,171.24 324.22,173.25 324.35,176.24 324.47,174.30 324.60,176.90 324.72,177.97 324.85,178.24 324.97,175.76 325.10,178.12 325.22,176.57 325.34,179.31 325.47,179.01 325.59,179.64 325.72,177.75 325.84,178.50 325.97,182.31 326.09,182.08 326.21,179.93 326.34,182.48 326.46,179.26 326.59,180.68 326.71,181.49 326.84,182.50 326.96,183.37 327.08,180.14 327.21,182.35 327.33,181.26 327.46,185.75 327.58,180.74 327.71,182.44 327.83,182.29 327.96,181.75 328.08,182.74 328.20,182.50 328.33,184.97 328.45,184.87 328.58,185.63 328.70,187.59 328.83,184.26 328.95,186.99 329.07,186.23 329.20,186.87 329.32,186.46 329.45,183.02 329.57,188.12 329.70,186.41 329.82,188.56 329.94,188.47 330.07,183.64 330.19,184.99 330.32,186.25 330.44,188.49 330.57,184.70 330.69,187.35 330.82,185.34 330.94,186.47 331.06,186.08 331.19,185.18 331.31,189.57 331.44,188.47 331.56,190.04 331.69,185.98 331.81,188.74 331.93,188.36 332.06,190.34 332.18,186.54 332.31,186.89 332.43,187.98 332.56,191.36 332.68,186.98 332.80,188.64 332.93,187.38 333.05,186.05 333.18,190.51 333.30,188.27 333.43,187.87 333.55,190.81 333.67,189.46 333.80,191.17 333.92,186.77 334.05,190.18 334.17,186.63 334.30,190.16 334.42,188.38 334.55,190.88 334.67,187.89 334.79,190.41 334.92,187.83 335.04,186.33 335.17,189.33 335.29,187.18 335.42,190.19 335.54,190.27 335.66,188.01 335.79,186.90 335.91,190.46 336.04,191.07 336.16,191.18 336.29,190.25 336.41,187.06 336.53,190.79 336.66,188.16 336.78,188.73 336.91,187.38 337.03,190.19 337.16,191.40 337.28,188.02 337.41,187.04 337.53,188.64 337.65,187.03 337.78,186.79 337.90,188.63 338.03,188.50 338.15,186.06 338.28,191.36 338.40,191.56" stroke="#34976d" stroke-width="1.4"/><polyline points="40.10,160.63 40.22,169.78 40.35,171.03 40.47,169.95 40.60,165.29 40.72,167.79 40.85,168.93 40.97,165.55 41.09,171.86 41.22,167.58 41.34,168.23 41.47,173.59 41.59,170.73 41.72,176.40 41.84,167.67 41.97,178.55 42.09,176.12 42.21,168.57 42.34,173.82 42.46,179.32 42.59,180.43 42.71,173.84 42.84,178.17 42.96,176.60 43.08,179.46 43.21,179.98 43.33,176.74 43.46,174.06 43.58,174.08 43.71,181.40 43.83,177.79 43.95,181.77 44.08,182.15 44.20,181.20 44.33,175.85 44.45,183.98 44.58,178.51 44.70,183.97 44.83,174.91 44.95,182.21 45.07,183.47 45.20,183.17 45.32,181.56 45.45,184.92 45.57,178.09 45.70,180.14 45.82,178.33 45.94,183.68 46.07,181.50 46.19,183.45 46.32,177.18 46.44,176.93 46.57,177.27 46.69,183.99 46.81,181.15 46.94,177.12 47.06,177.09 47.19,182.80 47.31,178.15 47.44,182.22 47.56,178.28 47.68,184.06 47.81,179.44 47.93,182.87 48.06,179.20 48.18,176.79 48.31,178.01 48.43,183.11 48.56,179.47 48.68,174.69 48.80,181.57 48.93,183.21 49.05,183.75 49.18,185.13 49.30,186.27 49.43,181.53 49.55,180.77 49.67,179.99 49.80,183.66 49.92,183.39 50.05,180.09 50.17,179.43 50.30,178.53 50.42,178.64 50.54,183.73 50.67,183.93 50.79,181.28 50.92,183.62 51.04,181.67 51.17,182.21 51.29,184.33 51.42,181.01 51.54,181.51 51.66,185.20 51.79,185.14 51.91,182.11 52.04,181.16 52.16,177.28 52.29,180.79 52.41,179.42 52.53,180.66 52.66,178.95 52.78,184.94 52.91,178.90 53.03,175.31 53.16,180.76 53.28,183.36 53.40,187.68 53.53,182.49 53.65,179.90 53.78,184.35 53.90,185.58 54.03,178.91 54.15,183.37 54.28,178.97 54.40,184.55 54.52,182.98 54.65,184.61 54.77,185.53 54.90,183.86 55.02,184.23 55.15,181.25 55.27,180.28 55.39,185.18 55.52,180.18 55.64,184.66 55.77,181.30 55.89,177.76 56.02,182.31 56.14,183.52 56.26,177.69 56.39,185.37 56.51,180.14 56.64,181.07 56.76,183.34 56.89,182.02 57.01,181.12 57.14,185.04 57.26,176.11 57.38,186.56 57.51,180.56 57.63,186.25 57.76,185.53 57.88,182.86 58.01,182.67 58.13,183.74 58.25,186.22 58.38,180.12 58.50,181.84 58.63,182.32 58.75,181.38 58.88,180.40 59.00,182.28 59.12,181.01 59.25,182.99 59.37,181.68 59.50,184.82 59.62,184.81 59.75,182.44 59.87,185.04 59.99,182.09 60.12,180.82 60.24,182.55 60.37,184.72 60.49,182.25 60.62,184.28 60.74,180.67 60.87,183.14 60.99,182.30 61.11,183.00 61.24,181.31 61.36,178.77 61.49,177.83 61.61,178.38 61.74,178.23 61.86,181.03 61.98,180.63 62.11,175.29 62.23,188.66 62.36,184.01 62.48,182.99 62.61,185.07 62.73,184.09 62.85,180.13 62.98,185.83 63.10,182.18 63.23,183.59 63.35,184.30 63.48,186.44 63.60,181.46 63.73,182.55 63.85,185.70 63.97,186.24 64.10,184.44 64.22,185.16 64.35,178.78 64.47,183.07 64.60,180.84 64.72,183.15 64.84,183.39 64.97,181.53 65.09,185.13 65.22,184.75 65.34,178.69 65.47,185.29 65.59,184.09 65.71,184.92 65.84,180.56 65.96,181.34 66.09,184.03 66.21,184.96 66.34,180.38 66.46,183.45 66.59,181.12 66.71,181.72 66.83,181.85 66.96,181.02 67.08,185.00 67.21,184.57 67.33,177.19 67.46,182.03 67.58,181.80 67.70,181.99 67.83,182.26 67.95,181.87 68.08,182.33 68.20,182.99 68.33,185.49 68.45,184.33 68.57,180.43 68.70,184.68 68.82,183.84 68.95,179.14 69.07,185.97 69.20,180.62 69.32,182.89 69.45,182.98 69.57,179.25 69.69,179.90 69.82,180.06 69.94,186.00 70.07,185.78 70.19,185.61 70.32,180.52 70.44,181.85 70.56,182.83 70.69,178.90 70.81,179.51 70.94,182.19 71.06,179.26 71.19,182.04 71.31,182.57 71.43,178.56 71.56,184.48 71.68,181.36 71.81,182.04 71.93,183.47 72.06,185.16 72.18,179.47 72.30,179.61 72.43,183.21 72.55,177.07 72.68,183.60 72.80,185.31 72.93,181.64 73.05,181.16 73.18,188.26 73.30,186.76 73.42,186.05 73.55,180.78 73.67,185.78 73.80,185.80 73.92,182.66 74.05,186.29 74.17,187.69 74.29,181.64 74.42,179.88 74.54,181.81 74.67,184.83 74.79,186.55 74.92,186.82 75.04,185.74 75.16,184.10 75.29,180.86 75.41,181.68 75.54,180.76 75.66,183.66 75.79,179.79 75.91,185.33 76.04,184.11 76.16,185.27 76.28,184.57 76.41,184.19 76.53,181.39 76.66,186.06 76.78,184.91 76.91,179.78 77.03,180.63 77.15,179.55 77.28,184.14 77.40,182.35 77.53,180.59 77.65,184.33 77.78,179.58 77.90,186.53 78.02,186.26 78.15,179.43 78.27,184.03 78.40,183.48 78.52,181.02 78.65,181.25 78.77,186.19 78.90,179.21 79.02,185.72 79.14,182.45 79.27,182.91 79.39,182.54 79.52,176.26 79.64,183.84 79.77,183.87 79.89,182.63 80.01,185.08 80.14,181.61 80.26,188.80 80.39,184.41 80.51,183.53 80.64,187.99 80.76,187.29 80.88,182.09 81.01,180.85 81.13,185.85 81.26,182.90 81.38,186.54 81.51,182.90 81.63,182.21 81.76,183.41 81.88,180.04 82.00,181.03 82.13,180.78 82.25,185.18 82.38,181.89 82.50,185.95 82.63,186.97 82.75,183.32 82.87,180.85 83.00,179.45 83.12,186.96 83.25,180.24 83.37,185.18 83.50,179.39 83.62,186.49 83.74,183.63 83.87,184.40 83.99,184.05 84.12,181.00 84.24,180.05 84.37,185.74 84.49,183.49 84.61,183.59 84.74,179.94 84.86,186.56 84.99,184.56 85.11,182.37 85.24,179.37 85.36,182.71 85.49,186.74 85.61,185.00 85.73,179.12 85.86,184.87 85.98,185.83 86.11,180.94 86.23,185.58 86.36,186.59 86.48,182.18 86.60,177.20 86.73,185.32 86.85,189.25 86.98,185.47 87.10,183.91 87.23,184.83 87.35,187.74 87.47,185.78 87.60,181.71 87.72,183.18 87.85,182.80 87.97,186.51 88.10,184.39 88.22,180.81 88.35,180.29 88.47,182.96 88.59,184.51 88.72,184.52 88.84,182.94 88.97,183.11 89.09,182.20 89.22,181.00 89.34,182.32 89.46,184.89 89.59,181.98 89.71,186.81 89.84,184.03 89.96,180.84 90.09,183.20 90.21,180.90 90.33,180.52 90.46,180.32 90.58,180.78 90.71,180.91 90.83,187.09 90.96,179.76 91.08,182.95 91.21,184.49 91.33,179.88 91.45,181.90 91.58,182.49 91.70,183.03 91.83,184.64 91.95,183.30 92.08,183.36 92.20,181.44 92.32,179.61 92.45,184.42 92.57,177.48 92.70,186.99 92.82,187.25 92.95,189.85 93.07,188.22 93.19,185.91 93.32,183.47 93.44,182.99 93.57,186.13 93.69,187.59 93.82,186.61 93.94,187.20 94.07,181.66 94.19,181.61 94.31,185.34 94.44,186.90 94.56,182.29 94.69,188.47 94.81,184.30 94.94,180.98 95.06,185.23 95.18,188.32 95.31,188.17 95.43,188.04 95.56,183.78 95.68,187.20 95.81,182.86 95.93,187.08 96.05,184.26 96.18,183.13 96.30,180.41 96.43,183.14 96.55,185.32 96.68,181.46 96.80,183.54 96.92,181.91 97.05,181.25 97.17,182.63 97.30,181.20 97.42,184.57 97.55,185.14 97.67,182.50 97.80,180.54 97.92,182.25 98.04,180.85 98.17,184.81 98.29,186.73 98.42,180.23 98.54,183.28 98.67,183.62 98.79,180.06 98.91,187.54 99.04,180.64 99.16,180.63 99.29,180.21 99.41,182.65 99.54,184.92 99.66,183.83 99.78,183.00 99.91,181.56 100.03,186.24 100.16,181.58 100.28,183.16 100.41,184.96 100.53,179.79 100.66,176.90 100.78,187.02 100.90,185.26 101.03,184.37 101.15,190.33 101.28,182.57 101.40,184.73 101.53,183.47 101.65,183.67 101.77,189.26 101.90,184.58 102.02,186.26 102.15,186.46 102.27,188.64 102.40,188.67 102.52,183.99 102.64,186.42 102.77,181.93 102.89,186.31 103.02,182.91 103.14,181.05 103.27,187.02 103.39,188.77 103.52,186.38 103.64,187.02 103.76,188.17 103.89,183.51 104.01,187.69 104.14,184.60 104.26,184.76 104.39,181.23 104.51,182.84 104.63,183.77 104.76,184.95 104.88,182.38 105.01,188.30 105.13,187.45 105.26,181.69 105.38,181.40 105.50,180.92 105.63,182.06 105.75,186.64 105.88,182.36 106.00,185.20 106.13,184.94 106.25,188.08 106.38,183.89 106.50,182.11 106.62,184.54 106.75,183.42 106.87,181.36 107.00,187.41 107.12,183.19 107.25,180.48 107.37,187.15 107.49,187.11 107.62,183.50 107.74,186.67 107.87,184.34 107.99,185.21 108.12,184.10 108.24,181.39 108.36,180.04 108.49,184.10 108.61,183.88 108.74,186.91 108.86,184.67 108.99,189.49 109.11,189.57 109.23,184.92 109.36,183.06 109.48,186.53 109.61,185.07 109.73,189.80 109.86,184.90 109.98,186.70 110.11,189.31 110.23,188.80 110.35,182.68 110.48,184.94 110.60,185.63 110.73,187.41 110.85,188.18 110.98,188.47 111.10,185.98 111.22,187.72 111.35,188.16 111.47,182.10 111.60,188.98 111.72,183.85 111.85,181.32 111.97,183.33 112.09,186.28 112.22,184.13 112.34,185.81 112.47,187.34 112.59,183.60 112.72,182.70 112.84,186.97 112.97,181.72 113.09,188.37 113.21,187.62 113.34,183.72 113.46,184.95 113.59,186.81 113.71,188.11 113.84,188.73 113.96,184.94 114.08,177.89 114.21,185.06 114.33,192.15 114.46,186.14 114.58,185.52 114.71,190.60 114.83,189.33 114.95,187.07 115.08,188.13 115.20,190.32 115.33,186.54 115.45,183.17 115.58,190.51 115.70,190.21 115.83,189.58 115.95,183.94 116.07,184.68 116.20,182.64 116.32,186.73 116.45,189.48 116.57,186.39 116.70,182.95 116.82,183.08 116.94,188.03 117.07,183.80 117.19,188.00 117.32,186.60 117.44,184.96 117.57,185.38 117.69,188.39 117.81,189.45 117.94,183.04 118.06,187.96 118.19,186.66 118.31,183.64 118.44,183.34 118.56,183.46 118.69,189.29 118.81,187.46 118.93,181.73 119.06,185.02 119.18,187.55 119.31,183.30 119.43,185.15 119.56,184.20 119.68,185.63 119.80,182.42 119.93,186.87 120.05,182.47 120.18,185.64 120.30,182.93 120.43,186.38 120.55,177.73 120.67,187.23 120.80,191.04 120.92,185.46 121.05,186.04 121.17,189.04 121.30,188.61 121.42,184.30 121.54,187.90 121.67,190.79 121.79,184.26 121.92,186.20 122.04,183.44 122.17,188.28 122.29,183.67 122.42,185.98 122.54,184.33 122.66,188.80 122.79,184.22 122.91,184.98 123.04,187.97 123.16,183.24 123.29,186.89 123.41,183.82 123.53,183.94 123.66,190.36 123.78,183.10 123.91,184.43 124.03,185.13 124.16,188.04 124.28,183.93 124.40,183.40 124.53,184.49 124.65,187.10 124.78,189.98 124.90,186.89 125.03,182.42 125.15,185.29 125.28,186.58 125.40,188.60 125.52,190.02 125.65,183.32 125.77,188.67 125.90,187.81 126.02,187.32 126.15,186.54 126.27,187.31 126.39,178.50 126.52,186.41 126.64,187.65 126.77,185.55 126.89,191.30 127.02,187.06 127.14,191.99 127.26,189.12 127.39,189.95 127.51,188.37 127.64,191.06 127.76,190.14 127.89,185.04 128.01,189.33 128.14,190.38 128.26,189.28 128.38,190.27 128.51,189.07 128.63,187.17 128.76,184.12 128.88,185.36 129.01,189.11 129.13,185.73 129.25,189.40 129.38,189.75 129.50,191.15 129.63,190.35 129.75,190.97 129.88,185.16 130.00,183.96 130.12,189.80 130.25,185.75 130.37,190.16 130.50,188.79 130.62,190.89 130.75,184.74 130.87,185.32 131.00,188.47 131.12,183.15 131.24,188.44 131.37,187.39 131.49,186.89 131.62,183.62 131.74,188.91 131.87,183.45 131.99,188.51 132.11,189.36 132.24,185.01 132.36,189.82 132.49,184.83 132.61,185.96 132.74,189.34 132.86,189.96 132.98,190.25 133.11,189.05 133.23,183.12 133.36,189.63 133.48,189.75 133.61,190.11 133.73,179.34 133.85,187.89 133.98,192.98 134.10,188.54 134.23,189.40 134.35,193.05 134.48,187.25 134.60,187.87 134.73,188.15 134.85,191.79 134.97,192.77 135.10,186.49 135.22,187.30 135.35,191.06 135.47,186.58 135.60,189.53 135.72,188.33 135.84,191.29 135.97,186.68 136.09,188.67 136.22,189.13 136.34,184.77 136.47,184.92 136.59,185.98 136.71,184.65 136.84,187.32 136.96,188.69 137.09,188.06 137.21,189.23 137.34,188.74 137.46,189.79 137.59,190.84 137.71,184.28 137.83,184.61 137.96,184.30 138.08,188.44 138.21,185.26 138.33,187.88 138.46,186.20 138.58,187.31 138.70,187.44 138.83,188.66 138.95,184.16 139.08,187.91 139.20,186.33 139.33,188.32 139.45,187.08 139.57,184.08 139.70,187.42 139.82,188.25 139.95,190.72 140.07,187.65 140.20,186.11 140.32,184.09 140.45,185.17 140.57,191.34 140.69,188.18 140.82,191.05 140.94,184.74 141.07,185.14 141.19,190.79 141.32,184.22 141.44,187.62 141.56,189.02 141.69,188.03 141.81,189.07 141.94,184.23 142.06,188.18 142.19,188.05 142.31,189.97 142.43,187.64 142.56,186.40 142.68,187.42 142.81,183.60 142.93,193.26 143.06,190.99 143.18,188.53 143.31,191.62 143.43,188.39 143.55,189.72 143.68,193.33 143.80,192.75 143.93,188.80 144.05,187.23 144.18,190.92 144.30,192.63 144.42,191.71 144.55,189.54 144.67,190.74 144.80,192.60 144.92,187.03 145.05,185.40 145.17,190.54 145.29,191.85 145.42,189.12 145.54,186.93 145.67,187.56 145.79,184.53 145.92,190.33 146.04,192.16 146.16,185.55 146.29,189.01 146.41,187.80 146.54,189.36 146.66,191.97 146.79,190.80 146.91,189.24 147.04,184.59 147.16,182.98 147.28,190.60 147.41,193.43 147.53,188.59 147.66,189.15 147.78,187.99 147.91,192.32 148.03,186.75 148.15,189.55 148.28,189.20 148.40,193.35 148.53,186.64 148.65,191.91 148.78,189.55 148.90,188.48 149.02,186.12 149.15,188.88 149.27,193.34 149.40,191.54 149.52,186.87 149.65,186.58 149.77,189.78 149.90,190.55 150.02,192.76 150.14,192.86 150.27,192.20 150.39,186.35 150.52,188.80 150.64,186.99 150.77,190.07 150.89,187.19 151.01,188.58 151.14,192.18 151.26,187.20 151.39,192.00 151.51,189.88 151.64,187.13 151.76,190.40 151.88,190.17 152.01,188.06 152.13,191.59 152.26,190.93 152.38,189.62 152.51,190.23 152.63,191.36 152.76,189.40 152.88,190.60 153.00,188.70 153.13,188.34 153.25,187.69 153.38,187.73 153.50,191.28 153.63,187.61 153.75,189.18 153.87,187.71 154.00,189.37 154.12,185.68 154.25,184.92 154.37,187.50 154.50,184.19 154.62,195.11 154.74,194.25 154.87,194.67 154.99,191.53 155.12,192.65 155.24,193.32 155.37,189.72 155.49,187.88 155.62,194.52 155.74,194.12 155.86,187.21 155.99,187.93 156.11,193.02 156.24,191.55 156.36,192.51 156.49,190.01 156.61,187.89 156.73,187.48 156.86,193.14 156.98,190.20 157.11,190.02 157.23,190.62 157.36,191.15 157.48,187.90 157.60,186.33 157.73,192.89 157.85,187.03 157.98,191.39 158.10,189.03 158.23,188.09 158.35,192.73 158.47,191.16 158.60,191.52 158.72,187.70 158.85,191.00 158.97,188.20 159.10,191.26 159.22,192.13 159.35,185.97 159.47,191.60 159.59,188.01 159.72,185.53 159.84,190.70 159.97,191.57 160.09,187.04 160.22,190.48 160.34,190.24 160.46,189.50 160.59,192.11 160.71,190.88 160.84,189.37 160.96,192.70 161.09,185.27 161.21,190.09 161.33,190.31 161.46,190.31 161.58,191.13 161.71,188.88 161.83,186.06 161.96,189.96 162.08,185.58 162.21,191.59 162.33,190.52 162.45,185.78 162.58,190.45 162.70,186.56 162.83,191.07 162.95,185.18 163.08,184.34 163.20,191.70 163.32,191.84 163.45,191.49 163.57,188.20 163.70,188.00 163.82,191.50 163.95,193.06 164.07,195.10 164.19,193.64 164.32,189.89 164.44,190.88 164.57,192.88 164.69,189.66 164.82,191.64 164.94,189.97 165.07,192.49 165.19,189.56 165.31,187.48 165.44,190.08 165.56,189.97 165.69,190.81 165.81,188.69 165.94,188.87 166.06,192.45 166.18,192.23 166.31,186.46 166.43,189.99 166.56,192.12 166.68,186.49 166.81,189.58 166.93,187.44 167.05,190.18 167.18,189.05 167.30,190.82 167.43,190.79 167.55,186.29 167.68,188.72 167.80,186.21 167.93,193.21 168.05,186.08 168.17,187.20 168.30,186.61 168.42,186.66 168.55,189.95 168.67,187.51 168.80,191.24 168.92,193.21 169.04,192.04 169.17,187.92 169.29,187.48 169.42,186.68 169.54,191.11 169.67,186.22 169.79,193.21 169.91,191.82 170.04,191.10 170.16,192.84 170.29,185.47 170.41,186.49 170.54,189.28 170.66,190.57 170.78,186.19 170.91,189.53 171.03,185.81 171.16,188.35 171.28,186.41 171.41,191.46 171.53,191.26 171.66,191.71 171.78,188.42 171.90,186.51 172.03,191.15 172.15,188.58 172.28,186.21 172.40,185.36 172.53,187.51 172.65,190.01 172.77,189.02 172.90,188.32 173.02,185.26 173.15,189.38 173.27,192.97 173.40,186.56 173.52,191.24 173.64,185.77 173.77,191.04 173.89,188.43 174.02,190.77 174.14,190.11 174.27,184.28 174.39,195.42 174.52,192.20 174.64,196.09 174.76,194.23 174.89,188.13 175.01,193.75 175.14,192.21 175.26,194.58 175.39,192.03 175.51,192.05 175.63,191.88 175.76,188.74 175.88,190.68 176.01,193.65 176.13,187.96 176.26,189.67 176.38,192.67 176.50,193.37 176.63,187.80 176.75,188.45 176.88,192.14 177.00,192.17 177.13,188.38 177.25,187.16 177.38,186.77 177.50,193.27 177.62,193.53 177.75,186.12 177.87,188.98 178.00,188.17 178.12,189.25 178.25,190.08 178.37,189.60 178.49,190.26 178.62,189.93 178.74,189.98 178.87,192.81 178.99,187.91 179.12,187.21 179.24,192.38 179.36,189.50 179.49,186.36 179.61,191.32 179.74,190.02 179.86,191.18 179.99,187.64 180.11,192.48 180.24,186.94 180.36,191.83 180.48,187.86 180.61,192.24 180.73,191.96 180.86,191.68 180.98,190.95 181.11,191.55 181.23,191.65 181.35,191.08 181.48,186.14 181.60,188.32 181.73,192.21 181.85,185.53 181.98,186.71 182.10,191.80 182.22,192.15 182.35,191.38 182.47,190.57 182.60,189.67 182.72,187.29 182.85,184.94 182.97,191.18 183.09,192.37 183.22,193.47 183.34,192.41 183.47,196.25 183.59,194.85 183.72,192.63 183.84,189.05 183.97,189.98 184.09,188.69 184.21,189.16 184.34,190.43 184.46,188.61 184.59,188.89 184.71,194.99 184.84,190.90 184.96,188.14 185.08,193.76 185.21,190.65 185.33,194.26 185.46,191.99 185.58,191.89 185.71,193.08 185.83,187.25 185.95,190.79 186.08,192.96 186.20,186.73 186.33,191.89 186.45,190.49 186.58,188.07 186.70,187.99 186.83,194.04 186.95,193.36 187.07,193.37 187.20,186.85 187.32,191.60 187.45,190.23 187.57,186.71 187.70,192.31 187.82,187.02 187.94,192.25 188.07,187.30 188.19,193.37 188.32,191.63 188.44,189.80 188.57,189.19 188.69,190.38 188.81,186.44 188.94,192.80 189.06,192.05 189.19,192.46 189.31,193.01 189.44,190.97 189.56,190.56 189.69,191.82 189.81,188.76 189.93,192.77 190.06,187.66 190.18,190.62 190.31,189.98 190.43,192.14 190.56,192.88 190.68,188.34 190.80,189.61 190.93,188.71 191.05,188.20 191.18,193.00 191.30,190.74 191.43,191.60 191.55,187.01 191.67,192.32 191.80,191.95 191.92,187.43 192.05,187.53 192.17,189.90 192.30,190.41 192.42,188.24 192.55,192.67 192.67,191.99 192.79,188.88 192.92,186.25 193.04,187.41 193.17,187.59 193.29,190.46 193.42,190.04 193.54,193.15 193.66,189.93 193.79,188.60 193.91,189.53 194.04,181.66 194.16,195.04 194.29,195.95 194.41,192.13 194.53,193.51 194.66,194.94 194.78,189.38 194.91,192.21 195.03,193.61 195.16,194.69 195.28,195.78 195.41,188.75 195.53,195.49 195.65,188.20 195.78,193.68 195.90,188.24 196.03,188.38 196.15,190.36 196.28,193.92 196.40,189.91 196.52,187.39 196.65,191.19 196.77,190.24 196.90,188.04 197.02,187.14 197.15,192.83 197.27,189.57 197.39,189.39 197.52,190.46 197.64,187.68 197.77,192.49 197.89,191.39 198.02,188.48 198.14,191.57 198.26,190.03 198.39,189.55 198.51,190.39 198.64,193.24 198.76,186.77 198.89,186.76 199.01,189.08 199.14,188.46 199.26,190.03 199.38,192.19 199.51,190.19 199.63,189.19 199.76,191.34 199.88,191.98 200.01,193.71 200.13,191.40 200.25,193.46 200.38,186.61 200.50,192.34 200.63,187.31 200.75,188.18 200.88,193.90 201.00,193.63 201.12,188.99 201.25,192.56 201.37,189.84 201.50,187.51 201.62,186.91 201.75,189.07 201.87,188.47 202.00,190.58 202.12,191.09 202.24,193.74 202.37,189.63 202.49,191.98 202.62,191.97 202.74,188.87 202.87,186.62 202.99,190.93 203.11,192.82 203.24,189.25 203.36,187.40 203.49,187.05 203.61,188.27 203.74,193.79 203.86,192.83 203.98,193.34 204.11,187.74 204.23,188.91 204.36,191.25 204.48,187.32 204.61,186.72 204.73,186.73 204.86,189.66 204.98,190.56 205.10,188.25 205.23,191.97 205.35,190.08 205.48,188.80 205.60,187.67 205.73,191.58 205.85,189.00 205.97,192.63 206.10,193.46 206.22,191.13 206.35,191.86 206.47,189.30 206.60,192.18 206.72,188.29 206.84,187.08 206.97,191.18 207.09,183.40 207.22,192.29 207.34,194.84 207.47,196.50 207.59,191.51 207.72,194.70 207.84,192.58 207.96,191.42 208.09,196.14 208.21,193.58 208.34,188.63 208.46,194.00 208.59,194.57 208.71,191.84 208.83,188.59 208.96,193.87 209.08,190.99 209.21,194.04 209.33,190.79 209.46,191.02 209.58,193.21 209.70,189.55 209.83,194.27 209.95,189.37 210.08,194.07 210.20,193.33 210.33,189.48 210.45,192.84 210.57,191.76 210.70,189.93 210.82,191.33 210.95,188.32 211.07,187.14 211.20,194.54 211.32,192.42 211.45,192.93 211.57,189.63 211.69,186.99 211.82,187.10 211.94,189.22 212.07,188.77 212.19,190.68 212.32,188.92 212.44,193.86 212.56,189.69 212.69,189.33 212.81,189.53 212.94,188.57 213.06,187.64 213.19,191.72 213.31,189.23 213.43,189.76 213.56,193.69 213.68,192.55 213.81,193.82 213.93,191.58 214.06,192.62 214.18,192.43 214.31,190.07 214.43,193.36 214.55,189.23 214.68,188.92 214.80,190.85 214.93,191.14 215.05,191.40 215.18,191.15 215.30,187.04 215.42,192.88 215.55,192.40 215.67,193.77 215.80,188.70 215.92,188.42 216.05,192.41 216.17,187.42 216.29,189.23 216.42,193.98 216.54,189.22 216.67,190.40 216.79,189.77 216.92,192.25 217.04,191.72 217.17,189.27 217.29,192.03 217.41,190.69 217.54,189.31 217.66,189.25 217.79,189.93 217.91,184.92 218.04,190.46 218.16,190.39 218.28,191.68 218.41,195.35 218.53,197.46 218.66,189.88 218.78,189.77 218.91,193.76 219.03,196.05 219.15,196.17 219.28,190.45 219.40,191.71 219.53,194.32 219.65,195.60 219.78,195.76 219.90,191.65 220.03,194.17 220.15,193.53 220.27,190.51 220.40,194.56 220.52,189.78 220.65,194.01 220.77,191.64 220.90,194.55 221.02,194.62 221.14,189.58 221.27,192.64 221.39,195.25 221.52,193.37 221.64,191.67 221.77,189.68 221.89,189.50 222.01,192.37 222.14,194.21 222.26,194.37 222.39,194.42 222.51,192.89 222.64,195.43 222.76,192.24 222.88,192.08 223.01,195.23 223.13,194.06 223.26,194.18 223.38,190.74 223.51,192.11 223.63,188.59 223.76,194.10 223.88,189.86 224.00,192.75 224.13,187.94 224.25,190.38 224.38,188.73 224.50,190.59 224.63,192.52 224.75,191.71 224.87,187.99 225.00,191.53 225.12,187.71 225.25,190.97 225.37,193.65 225.50,191.96 225.62,190.41 225.74,192.49 225.87,191.90 225.99,190.50 226.12,190.49 226.24,192.68 226.37,192.37 226.49,192.46 226.62,188.44 226.74,194.68 226.86,194.14 226.99,188.63 227.11,193.31 227.24,190.19 227.36,193.67 227.49,191.27 227.61,192.28 227.73,192.07 227.86,192.32 227.98,192.16 228.11,192.35 228.23,191.04 228.36,191.31 228.48,188.40 228.60,192.15 228.73,190.26 228.85,187.71 228.98,193.30 229.10,192.44 229.23,190.15 229.35,192.43 229.48,194.96 229.60,188.38 229.72,193.00 229.85,194.98 229.97,188.10 230.10,188.99 230.22,189.76 230.35,194.70 230.47,187.28 230.59,191.37 230.72,189.13 230.84,188.37 230.97,187.28 231.09,190.31 231.22,189.61 231.34,189.99 231.46,193.38 231.59,190.49 231.71,190.16 231.84,191.34 231.96,190.99 232.09,192.73 232.21,191.90 232.34,190.48 232.46,194.87 232.58,194.62 232.71,192.25 232.83,193.50 232.96,188.48 233.08,194.43 233.21,193.95 233.33,191.19 233.45,189.03 233.58,191.41 233.70,192.89 233.83,191.24 233.95,191.50 234.08,190.20 234.20,192.03 234.32,193.33 234.45,193.52 234.57,188.75 234.70,193.67 234.82,192.12 234.95,189.73 235.07,193.79 235.19,188.79 235.32,188.19 235.44,192.97 235.57,194.70 235.69,189.54 235.82,191.05 235.94,189.76 236.07,191.90 236.19,193.78 236.31,193.91 236.44,192.31 236.56,192.48 236.69,189.69 236.81,185.97 236.94,191.48 237.06,192.25 237.18,192.47 237.31,155.00 237.43,195.46 237.56,190.76 237.68,192.35 237.81,195.74 237.93,196.76 238.05,195.41 238.18,194.15 238.30,190.14 238.43,193.53 238.55,197.48 238.68,190.92 238.80,191.42 238.93,195.80 239.05,195.56 239.17,195.68 239.30,192.69 239.42,189.46 239.55,195.28 239.67,196.25 239.80,193.32 239.92,192.08 240.04,190.10 240.17,191.13 240.29,192.96 240.42,194.83 240.54,189.62 240.67,192.45 240.79,188.89 240.91,192.95 241.04,192.53 241.16,192.38 241.29,190.54 241.41,189.64 241.54,195.36 241.66,195.81 241.79,192.73 241.91,195.83 242.03,191.51 242.16,191.35 242.28,191.21 242.41,189.01 242.53,190.96 242.66,191.58 242.78,193.75 242.90,190.64 243.03,191.26 243.15,194.09 243.28,192.05 243.40,192.93 243.53,191.44 243.65,189.66 243.77,191.28 243.90,192.43 244.02,194.79 244.15,191.01 244.27,189.09 244.40,188.30 244.52,195.65 244.65,192.88 244.77,194.45 244.89,194.31 245.02,192.36 245.14,189.62 245.27,191.75 245.39,188.69 245.52,192.28 245.64,195.15 245.76,191.22 245.89,191.72 246.01,190.04 246.14,194.33 246.26,194.83 246.39,192.31 246.51,191.27 246.63,189.01 246.76,192.66 246.88,189.29 247.01,190.06 247.13,190.50 247.26,189.86 247.38,193.20 247.50,192.58 247.63,194.50 247.75,193.81 247.88,194.09 248.00,189.73 248.13,192.34 248.25,194.43 248.38,192.44 248.50,189.82 248.62,193.40 248.75,190.56 248.87,192.66 249.00,194.23 249.12,191.89 249.25,191.34 249.37,191.42 249.49,192.72 249.62,194.83 249.74,191.58 249.87,192.69 249.99,193.03 250.12,193.84 250.24,188.49 250.36,192.04 250.49,188.63 250.61,187.95 250.74,188.91 250.86,195.31 250.99,192.36 251.11,193.76 251.24,192.20 251.36,192.56 251.48,190.40 251.61,192.82 251.73,189.82 251.86,191.91 251.98,191.69 252.11,191.80 252.23,188.63 252.35,191.63 252.48,189.80 252.60,187.82 252.73,193.51 252.85,188.61 252.98,194.98 253.10,191.56 253.22,190.46 253.35,187.89 253.47,187.74 253.60,177.47 253.72,196.94 253.85,194.18 253.97,197.91 254.10,193.47 254.22,195.13 254.34,192.07 254.47,193.59 254.59,196.35 254.72,194.02 254.84,192.66 254.97,194.37 255.09,196.87 255.21,194.82 255.34,192.29 255.46,197.04 255.59,190.94 255.71,195.82 255.84,193.39 255.96,193.96 256.08,191.81 256.21,191.78 256.33,190.90 256.46,193.86 256.58,195.18 256.71,189.62 256.83,191.69 256.96,193.23 257.08,196.89 257.20,193.26 257.33,193.57 257.45,193.43 257.58,190.55 257.70,193.29 257.83,190.43 257.95,195.30 258.07,195.15 258.20,195.01 258.32,190.77 258.45,192.37 258.57,189.70 258.70,193.46 258.82,190.51 258.94,195.27 259.07,193.09 259.19,190.60 259.32,193.30 259.44,191.96 259.57,193.95 259.69,195.66 259.81,188.95 259.94,190.82 260.06,195.46 260.19,189.69 260.31,193.09 260.44,196.07 260.56,190.37 260.69,195.62 260.81,190.70 260.93,193.06 261.06,193.79 261.18,189.23 261.31,195.19 261.43,194.98 261.56,188.78 261.68,192.29 261.80,195.69 261.93,191.27 262.05,191.94 262.18,191.01 262.30,189.06 262.43,189.26 262.55,193.65 262.67,190.58 262.80,195.83 262.92,195.42 263.05,194.07 263.17,192.30 263.30,194.33 263.42,188.54 263.55,195.74 263.67,195.94 263.79,192.99 263.92,192.79 264.04,194.15 264.17,188.42 264.29,193.76 264.42,191.29 264.54,188.42 264.66,191.73 264.79,195.50 264.91,192.90 265.04,190.38 265.16,192.22 265.29,194.71 265.41,189.47 265.53,195.73 265.66,189.54 265.78,189.34 265.91,188.53 266.03,195.15 266.16,193.07 266.28,193.31 266.41,191.39 266.53,189.10 266.65,191.14 266.78,189.57 266.90,192.70 267.03,193.35 267.15,192.39 267.28,191.19 267.40,190.28 267.52,193.50 267.65,189.65 267.77,195.41 267.90,192.10 268.02,192.36 268.15,194.80 268.27,189.15 268.39,195.30 268.52,195.11 268.64,191.11 268.77,189.53 268.89,194.35 269.02,188.55 269.14,193.99 269.27,193.79 269.39,189.24 269.51,188.21 269.64,189.08 269.76,193.64 269.89,191.52 270.01,195.64 270.14,189.19 270.26,195.56 270.38,177.85 270.51,194.47 270.63,192.42 270.76,198.22 270.88,196.67 271.01,197.03 271.13,192.81 271.25,191.71 271.38,193.32 271.50,197.78 271.63,191.09 271.75,197.13 271.88,192.27 272.00,193.05 272.12,194.98 272.25,197.39 272.37,194.70 272.50,194.69 272.62,196.18 272.75,195.65 272.87,196.71 273.00,192.52 273.12,197.39 273.24,197.45 273.37,195.51 273.49,190.32 273.62,192.81 273.74,195.90 273.87,191.45 273.99,193.43 274.11,192.17 274.24,190.88 274.36,193.96 274.49,192.34 274.61,195.82 274.74,190.16 274.86,196.35 274.98,192.32 275.11,195.00 275.23,191.03 275.36,189.97 275.48,189.68 275.61,191.31 275.73,190.92 275.86,194.09 275.98,193.95 276.10,196.12 276.23,193.91 276.35,193.44 276.48,191.15 276.60,189.36 276.73,193.83 276.85,190.35 276.97,196.71 277.10,194.26 277.22,189.27 277.35,192.35 277.47,189.70 277.60,188.97 277.72,191.99 277.84,196.06 277.97,189.93 278.09,196.51 278.22,192.33 278.34,191.21 278.47,196.02 278.59,191.27 278.72,190.01 278.84,195.87 278.96,195.91 279.09,194.80 279.21,194.70 279.34,192.35 279.46,195.31 279.59,191.89 279.71,192.44 279.83,189.97 279.96,192.82 280.08,194.22 280.21,190.72 280.33,189.76 280.46,189.28 280.58,192.32 280.70,189.51 280.83,191.92 280.95,193.35 281.08,189.12 281.20,194.72 281.33,189.37 281.45,189.55 281.58,193.65 281.70,195.85 281.82,189.50 281.95,193.98 282.07,192.21 282.20,190.15 282.32,192.94 282.45,191.87 282.57,191.50 282.69,195.21 282.82,192.84 282.94,194.75 283.07,188.86 283.19,195.77 283.32,190.26 283.44,192.45 283.56,189.02 283.69,190.11 283.81,192.17 283.94,194.24 284.06,194.41 284.19,192.08 284.31,190.36 284.43,193.11 284.56,191.29 284.68,189.70 284.81,194.28 284.93,194.47 285.06,189.73 285.18,188.71 285.31,194.10 285.43,175.00 285.55,192.99 285.68,195.34 285.80,197.52 285.93,194.63 286.05,198.02 286.18,192.17 286.30,196.06 286.42,193.30 286.55,197.04 286.67,191.59 286.80,196.79 286.92,194.80 287.05,196.56 287.17,192.02 287.29,197.46 287.42,196.01 287.54,191.19 287.67,197.52 287.79,192.07 287.92,193.66 288.04,193.36 288.17,196.53 288.29,196.36 288.41,191.14 288.54,196.98 288.66,191.61 288.79,195.84 288.91,191.25 289.04,193.39 289.16,191.04 289.28,195.29 289.41,193.19 289.53,194.40 289.66,197.70 289.78,196.33 289.91,191.51 290.03,193.27 290.15,194.27 290.28,192.46 290.40,190.31 290.53,192.48 290.65,191.92 290.78,191.28 290.90,190.96 291.03,190.53 291.15,196.14 291.27,193.14 291.40,195.22 291.52,195.57 291.65,196.13 291.77,194.07 291.90,196.02 292.02,190.57 292.14,190.95 292.27,194.44 292.39,192.35 292.52,190.91 292.64,192.28 292.77,192.45 292.89,196.21 293.01,192.69 293.14,196.21 293.26,190.92 293.39,196.01 293.51,195.64 293.64,190.67 293.76,195.17 293.89,195.37 294.01,195.32 294.13,196.14 294.26,192.73 294.38,193.00 294.51,191.16 294.63,193.03 294.76,196.28 294.88,194.01 295.00,195.35 295.13,195.82 295.25,193.83 295.38,193.38 295.50,190.76 295.63,193.59 295.75,193.86 295.87,189.48 296.00,189.13 296.12,196.56 296.25,189.48 296.37,195.27 296.50,193.85 296.62,195.45 296.74,193.22 296.87,193.29 296.99,190.73 297.12,193.57 297.24,195.85 297.37,190.76 297.49,196.09 297.62,190.92 297.74,193.91 297.86,195.99 297.99,195.27 298.11,191.34 298.24,193.26 298.36,195.03 298.49,196.45 298.61,194.60 298.73,196.00 298.86,192.89 298.98,193.65 299.11,190.85 299.23,191.92 299.36,191.60 299.48,196.28 299.60,196.26 299.73,196.06 299.85,192.06 299.98,196.20 300.10,193.79 300.23,190.41 300.35,192.52 300.48,189.67 300.60,192.91 300.72,196.12 300.85,192.02 300.97,191.72 301.10,189.40 301.22,192.55 301.35,194.01 301.47,195.89 301.59,191.42 301.72,190.71 301.84,195.96 301.97,189.57 302.09,192.45 302.22,193.40 302.34,196.91 302.46,194.27 302.59,196.36 302.71,196.57 302.84,195.43 302.96,195.73 303.09,191.38 303.21,196.26 303.34,196.36 303.46,192.90 303.58,192.22 303.71,192.90 303.83,197.54 303.96,196.62 304.08,173.00 304.21,192.35 304.33,198.73 304.45,192.19 304.58,194.19 304.70,200.16 304.83,197.90 304.95,197.22 305.08,199.15 305.20,200.72 305.32,201.82 305.45,201.41 305.57,198.26 305.70,199.78 305.82,201.24 305.95,203.45 306.07,204.49 306.20,205.98 306.32,201.35 306.44,200.44 306.57,205.78 306.69,203.81 306.82,201.98 306.94,199.48 307.07,200.23 307.19,204.70 307.31,202.41 307.44,198.41 307.56,201.89 307.69,201.27 307.81,203.58 307.94,198.32 308.06,200.46 308.18,204.27 308.31,202.65 308.43,201.91 308.56,199.85 308.68,198.52 308.81,197.15 308.93,198.59 309.05,198.90 309.18,199.35 309.30,202.30 309.43,199.04 309.55,200.56 309.68,196.77 309.80,198.19 309.93,202.37 310.05,196.47 310.17,195.85 310.30,195.45 310.42,194.79 310.55,195.76 310.67,195.18 310.80,195.68 310.92,197.39 311.04,199.50 311.17,200.25 311.29,198.26 311.42,194.54 311.54,199.92 311.67,198.58 311.79,199.73 311.91,199.04 312.04,194.72 312.16,200.54 312.29,199.12 312.41,195.62 312.54,199.00 312.66,196.32 312.79,193.88 312.91,197.89 313.03,200.64 313.16,198.11 313.28,200.03 313.41,194.52 313.53,196.84 313.66,195.28 313.78,200.16 313.90,194.09 314.03,193.13 314.15,196.99 314.28,196.08 314.40,194.51 314.53,199.92 314.65,195.07 314.77,194.64 314.90,197.99 315.02,200.23 315.15,195.99 315.27,198.57 315.40,193.19 315.52,199.18 315.65,196.84 315.77,197.66 315.89,196.26 316.02,192.81 316.14,195.62 316.27,193.89 316.39,194.01 316.52,198.97 316.64,195.26 316.76,198.89 316.89,198.41 317.01,197.87 317.14,196.19 317.26,193.05 317.39,198.75 317.51,192.71 317.63,195.40 317.76,199.23 317.88,198.21 318.01,196.87 318.13,197.23 318.26,199.53 318.38,198.28 318.51,196.51 318.63,195.19 318.75,193.20 318.88,198.67 319.00,198.37 319.13,197.23 319.25,199.10 319.38,192.49 319.50,193.03 319.62,196.81 319.75,199.83 319.87,199.32 320.00,197.08 320.12,193.17 320.25,183.00 320.37,197.39 320.49,198.80 320.62,180.24 320.74,199.10 320.87,197.27 320.99,199.25 321.12,196.38 321.24,197.39 321.36,198.07 321.49,196.99 321.61,201.82 321.74,196.70 321.86,199.59 321.99,196.61 322.11,202.61 322.24,197.82 322.36,199.95 322.48,202.61 322.61,200.88 322.73,200.27 322.86,196.59 322.98,199.38 323.11,199.76 323.23,201.89 323.35,200.50 323.48,199.10 323.60,201.29 323.73,200.35 323.85,203.91 323.98,201.46 324.10,201.59 324.22,203.76 324.35,202.64 324.47,202.08 324.60,199.61 324.72,202.71 324.85,206.01 324.97,207.04 325.10,206.27 325.22,200.68 325.34,206.70 325.47,203.85 325.59,205.46 325.72,205.03 325.84,204.14 325.97,202.08 326.09,203.30 326.21,203.35 326.34,206.62 326.46,202.01 326.59,201.47 326.71,207.54 326.84,206.20 326.96,205.55 327.08,202.49 327.21,202.42 327.33,206.64 327.46,202.82 327.58,208.27 327.71,203.15 327.83,206.71 327.96,203.86 328.08,204.54 328.20,204.73 328.33,202.54 328.45,205.65 328.58,209.14 328.70,206.45 328.83,204.21 328.95,206.80 329.07,210.07 329.20,206.59 329.32,206.83 329.45,209.12 329.57,203.86 329.70,205.84 329.82,206.56 329.94,206.00 330.07,207.88 330.19,209.68 330.32,206.88 330.44,209.77 330.57,207.19 330.69,210.66 330.82,206.37 330.94,207.29 331.06,209.16 331.19,204.04 331.31,210.75 331.44,207.40 331.56,206.89 331.69,204.98 331.81,204.87 331.93,207.75 332.06,210.41 332.18,208.81 332.31,211.17 332.43,211.75 332.56,208.21 332.68,205.80 332.80,211.53 332.93,206.07 333.05,208.69 333.18,205.98 333.30,211.19 333.43,210.34 333.55,208.52 333.67,211.17 333.80,209.80 333.92,209.41 334.05,209.78 334.17,211.46 334.30,207.74 334.42,210.06 334.55,207.47 334.67,209.87 334.79,208.87 334.92,210.56 335.04,209.07 335.17,208.68 335.29,205.64 335.42,205.35 335.54,211.53 335.66,208.46 335.79,212.48 335.91,208.49 336.04,205.84 336.16,210.81 336.29,207.61 336.41,209.95 336.53,205.54 336.66,212.07 336.78,206.70 336.91,208.13 337.03,208.52 337.16,209.42 337.28,212.52 337.41,212.05 337.53,208.34 337.65,208.35 337.78,211.15 337.90,208.08 338.03,207.34 338.15,212.76 338.28,211.34 338.40,208.79" stroke="#2a6db3" stroke-width="1.4"/></g><polyline points="399.50,12.27 399.62,12.38 399.75,12.23 399.87,12.26 400.00,11.34 400.12,11.17 400.25,11.61 400.37,11.81 400.50,11.44 400.62,11.22 400.74,10.96 400.87,11.22 400.99,10.87 401.12,11.71 401.24,10.78 401.37,10.99 401.49,11.38 401.62,11.18 401.74,10.87 401.86,11.39 401.99,10.26 402.11,12.10 402.24,11.99 402.36,12.79 402.49,11.00 402.61,10.66 402.74,10.62 402.86,9.92 402.98,9.97 403.11,10.06 403.23,11.01 403.36,10.19 403.48,10.56 403.61,10.85 403.73,9.91 403.85,9.46 403.98,9.66 404.10,9.62 404.23,9.24 404.35,9.19 404.48,9.71 404.60,9.90 404.73,10.31 404.85,9.35 404.97,9.72 405.10,9.97 405.22,10.28 405.35,10.04 405.47,8.16 405.60,7.92 405.72,7.22 405.85,6.97 405.97,9.38 406.09,10.57 406.22,10.69 406.34,10.81 406.47,10.33 406.59,11.07 406.72,10.81 406.84,10.62 406.97,10.05 407.09,9.82 407.21,10.48 407.34,8.79 407.46,8.55 407.59,8.66 407.71,10.36 407.84,10.28 407.96,9.26 408.09,9.84 408.21,10.94 408.33,11.92 408.46,12.11 408.58,12.35 408.71,11.73 408.83,10.79 408.96,10.76 409.08,11.50 409.21,11.94 409.33,9.67 409.45,8.89 409.58,11.11 409.70,11.57 409.83,12.10 409.95,10.98 410.08,10.55 410.20,10.31 410.33,11.36 410.45,12.04 410.57,12.07 410.70,11.10 410.82,10.90 410.95,11.76 411.07,13.09 411.20,13.32 411.32,12.87 411.44,12.39 411.57,12.70 411.69,14.59 411.82,15.31 411.94,12.99 412.07,12.72 412.19,11.83 412.32,12.84 412.44,13.47 412.56,13.59 412.69,12.99 412.81,13.09 412.94,14.07 413.06,14.92 413.19,15.56 413.31,13.52 413.44,13.48 413.56,13.88 413.68,16.08 413.81,16.12 413.93,15.26 414.06,15.28 414.18,14.95 414.31,16.35 414.43,16.80 414.56,18.90 414.68,18.58 414.80,18.27 414.93,18.85 415.05,16.26 415.18,16.37 415.30,15.70 415.43,15.48 415.55,14.95 415.68,15.32 415.80,15.35 415.92,14.13 416.05,15.08 416.17,16.25 416.30,16.41 416.42,18.70 416.55,17.89 416.67,17.71 416.80,16.92 416.92,17.21 417.04,17.47 417.17,17.79 417.29,18.61 417.42,19.55 417.54,19.30 417.67,19.30 417.79,19.45 417.92,18.63 418.04,18.33 418.16,19.22 418.29,20.25 418.41,20.80 418.54,20.34 418.66,20.17 418.79,19.96 418.91,19.77 419.04,18.91 419.16,19.71 419.28,20.34 419.41,20.61 419.53,17.70 419.66,18.22 419.78,20.85 419.91,21.75 420.03,21.22 420.15,20.58 420.28,20.10 420.40,20.53 420.53,21.28 420.65,22.44 420.78,22.93 420.90,23.05 421.03,22.15 421.15,21.87 421.27,21.75 421.40,22.40 421.52,21.86 421.65,22.18 421.77,21.87 421.90,23.27 422.02,23.18 422.15,22.97 422.27,22.27 422.39,22.73 422.52,22.71 422.64,23.36 422.77,23.00 422.89,22.97 423.02,24.74 423.14,24.44 423.27,23.22 423.39,22.70 423.51,22.97 423.64,23.72 423.76,24.44 423.89,25.23 424.01,25.17 424.14,25.38 424.26,24.85 424.39,24.93 424.51,24.80 424.63,25.31 424.76,25.23 424.88,25.98 425.01,26.64 425.13,25.80 425.26,25.27 425.38,24.80 425.51,24.95 425.63,26.17 425.75,27.30 425.88,27.04 426.00,27.00 426.13,26.67 426.25,27.03 426.38,27.38 426.50,27.83 426.63,27.97 426.75,27.90 426.87,27.20 427.00,27.55 427.12,28.08 427.25,28.91 427.37,28.81 427.50,28.39 427.62,28.75 427.74,31.49 427.87,31.56 427.99,31.28 428.12,29.55 428.24,29.60 428.37,29.74 428.49,29.86 428.62,29.94 428.74,30.17 428.86,29.74 428.99,30.34 429.11,30.26 429.24,30.11 429.36,30.27 429.49,30.59 429.61,30.84 429.74,30.16 429.86,29.71 429.98,27.94 430.11,28.64 430.23,31.60 430.36,31.20 430.48,31.50 430.61,31.63 430.73,32.64 430.86,32.97 430.98,32.34 431.10,31.59 431.23,31.41 431.35,33.91 431.48,33.85 431.60,33.72 431.73,34.01 431.85,33.20 431.98,34.06 432.10,34.26 432.22,34.06 432.35,33.77 432.47,33.64 432.60,34.13 432.72,34.94 432.85,34.80 432.97,35.17 433.10,35.00 433.22,34.74 433.34,35.41 433.47,35.87 433.59,33.96 433.72,33.76 433.84,32.77 433.97,32.18 434.09,34.00 434.22,34.30 434.34,34.69 434.46,34.56 434.59,35.30 434.71,35.37 434.84,35.47 434.96,34.66 435.09,34.91 435.21,35.97 435.33,37.26 435.46,37.99 435.58,37.35 435.71,37.25 435.83,36.32 435.96,35.83 436.08,34.76 436.21,36.65 436.33,36.77 436.45,37.35 436.58,36.42 436.70,37.51 436.83,37.65 436.95,36.73 437.08,36.76 437.20,37.02 437.33,37.92 437.45,37.91 437.57,37.70 437.70,37.28 437.82,37.40 437.95,37.66 438.07,36.99 438.20,36.64 438.32,37.50 438.45,38.72 438.57,39.38 438.69,39.45 438.82,41.78 438.94,42.30 439.07,40.33 439.19,40.71 439.32,40.56 439.44,40.65 439.57,41.09 439.69,40.86 439.81,40.29 439.94,39.65 440.06,40.00 440.19,40.66 440.31,41.29 440.44,42.18 440.56,42.55 440.69,42.94 440.81,45.07 440.93,45.48 441.06,45.02 441.18,42.81 441.31,42.14 441.43,43.61 441.56,41.50 441.68,41.68 441.81,43.11 441.93,43.25 442.05,43.03 442.18,42.64 442.30,42.75 442.43,43.30 442.55,43.67 442.68,43.42 442.80,44.29 442.92,44.17 443.05,44.63 443.17,44.49 443.30,43.92 443.42,44.71 443.55,44.77 443.67,46.26 443.80,46.25 443.92,46.03 444.04,45.66 444.17,45.14 444.29,45.94 444.42,46.05 444.54,46.36 444.67,45.76 444.79,46.05 444.92,45.82 445.04,47.79 445.16,46.98 445.29,46.87 445.41,47.02 445.54,45.80 445.66,46.40 445.79,46.93 445.91,47.15 446.04,46.89 446.16,46.79 446.28,47.66 446.41,48.83 446.53,48.84 446.66,48.07 446.78,47.41 446.91,49.77 447.03,50.38 447.16,50.37 447.28,50.82 447.40,49.60 447.53,49.85 447.65,48.87 447.78,48.43 447.90,48.50 448.03,49.09 448.15,49.56 448.28,49.94 448.40,49.67 448.52,49.63 448.65,49.97 448.77,49.72 448.90,47.25 449.02,47.08 449.15,50.63 449.27,50.79 449.40,51.86 449.52,51.15 449.64,50.79 449.77,50.86 449.89,51.87 450.02,52.45 450.14,51.55 450.27,50.50 450.39,48.30 450.52,48.69 450.64,49.06 450.76,49.21 450.89,50.92 451.01,50.95 451.14,51.51 451.26,52.23 451.39,52.79 451.51,50.72 451.63,50.99 451.76,50.60 451.88,52.67 452.01,53.10 452.13,53.65 452.26,53.53 452.38,53.50 452.51,54.21 452.63,55.00 452.75,54.97 452.88,55.05 453.00,55.05 453.13,55.95 453.25,55.85 453.38,55.25 453.50,57.09 453.63,56.43 453.75,54.07 453.87,54.43 454.00,54.55 454.12,54.73 454.25,54.06 454.37,54.05 454.50,52.68 454.62,53.19 454.75,54.05 454.87,53.56 454.99,55.91 455.12,56.60 455.24,56.97 455.37,56.83 455.49,56.66 455.62,58.79 455.74,59.17 455.87,59.56 455.99,57.33 456.11,57.36 456.24,56.77 456.36,57.28 456.49,58.02 456.61,58.15 456.74,58.56 456.86,57.89 456.99,58.58 457.11,59.09 457.23,58.77 457.36,57.99 457.48,57.42 457.61,58.34 457.73,60.82 457.86,60.36 457.98,59.72 458.11,60.71 458.23,58.72 458.35,59.27 458.48,58.72 458.60,59.78 458.73,60.41 458.85,60.07 458.98,59.12 459.10,58.57 459.22,59.48 459.35,60.17 459.47,60.97 459.60,61.14 459.72,60.70 459.85,62.26 459.97,61.91 460.10,60.52 460.22,60.94 460.34,60.91 460.47,60.03 460.59,59.99 460.72,59.93 460.84,61.02 460.97,61.78 461.09,62.02 461.22,60.89 461.34,58.37 461.46,59.34 461.59,60.38 461.71,60.60 461.84,62.06 461.96,61.73 462.09,61.47 462.21,61.60 462.34,62.77 462.46,64.07 462.58,64.87 462.71,64.35 462.83,63.90 462.96,62.89 463.08,62.84 463.21,62.44 463.33,62.83 463.46,62.66 463.58,65.78 463.70,66.79 463.83,66.94 463.95,66.18 464.08,63.37 464.20,64.19 464.33,65.21 464.45,66.22 464.58,65.49 464.70,65.57 464.82,65.17 464.95,65.38 465.07,64.53 465.20,64.65 465.32,65.24 465.45,63.78 465.57,63.04 465.70,63.38 465.82,63.20 465.94,66.52 466.07,66.61 466.19,66.40 466.32,66.56 466.44,66.22 466.57,67.21 466.69,66.40 466.81,66.80 466.94,66.32 467.06,66.38 467.19,66.07 467.31,66.45 467.44,66.90 467.56,68.88 467.69,68.92 467.81,69.17 467.93,69.80 468.06,68.23 468.18,68.77 468.31,68.70 468.43,66.86 468.56,67.22 468.68,69.95 468.81,69.27 468.93,68.60 469.05,68.79 469.18,69.02 469.30,69.38 469.43,66.32 469.55,66.78 469.68,67.22 469.80,69.96 469.93,69.28 470.05,69.43 470.17,69.75 470.30,67.77 470.42,67.80 470.55,69.11 470.67,69.62 470.80,69.13 470.92,69.31 471.05,69.84 471.17,70.29 471.29,71.15 471.42,71.30 471.54,71.41 471.67,73.14 471.79,73.67 471.92,73.54 472.04,72.06 472.17,71.91 472.29,71.62 472.41,72.37 472.54,72.35 472.66,72.44 472.79,71.47 472.91,71.23 473.04,72.17 473.16,72.19 473.29,74.02 473.41,74.08 473.53,73.98 473.66,72.21 473.78,71.44 473.91,71.65 474.03,71.38 474.16,72.47 474.28,73.74 474.40,73.61 474.53,73.17 474.65,73.00 474.78,73.56 474.90,73.21 475.03,73.23 475.15,73.95 475.28,74.16 475.40,75.35 475.52,75.11 475.65,75.85 475.77,75.24 475.90,73.85 476.02,74.25 476.15,74.85 476.27,75.01 476.40,74.87 476.52,75.22 476.64,75.43 476.77,74.51 476.89,74.73 477.02,74.53 477.14,73.64 477.27,72.85 477.39,73.14 477.52,75.53 477.64,76.05 477.76,76.73 477.89,77.09 478.01,77.49 478.14,76.81 478.26,75.87 478.39,75.02 478.51,77.51 478.64,77.60 478.76,78.79 478.88,76.60 479.01,77.69 479.13,76.74 479.26,77.32 479.38,77.48 479.51,78.10 479.63,77.59 479.76,77.29 479.88,78.04 480.00,77.72 480.13,77.83 480.25,77.40 480.38,78.81 480.50,78.34 480.63,78.88 480.75,78.54 480.88,79.22 481.00,78.86 481.12,80.21 481.25,79.64 481.37,79.97 481.50,80.15 481.62,79.74 481.75,79.03 481.87,78.42 481.99,77.87 482.12,78.76 482.24,77.58 482.37,77.37 482.49,76.49 482.62,77.93 482.74,78.07 482.87,79.20 482.99,79.44 483.11,79.85 483.24,80.06 483.36,81.08 483.49,81.24 483.61,81.09 483.74,81.19 483.86,81.05 483.99,81.12 484.11,81.63 484.23,82.05 484.36,81.57 484.48,83.35 484.61,82.88 484.73,82.72 484.86,80.00 484.98,80.35 485.11,80.83 485.23,82.11 485.35,81.99 485.48,82.10 485.60,80.78 485.73,81.62 485.85,82.78 485.98,83.88 486.10,84.05 486.23,83.01 486.35,82.24 486.47,81.64 486.60,82.22 486.72,82.33 486.85,82.17 486.97,82.44 487.10,86.11 487.22,86.58 487.35,86.16 487.47,85.24 487.59,82.62 487.72,82.37 487.84,82.89 487.97,83.60 488.09,84.95 488.22,83.25 488.34,82.45 488.47,81.47 488.59,81.56 488.71,84.32 488.84,84.29 488.96,84.75 489.09,84.30 489.21,84.49 489.34,83.65 489.46,86.25 489.59,86.33 489.71,86.61 489.83,87.20 489.96,85.89 490.08,86.61 490.21,85.82 490.33,86.49 490.46,86.69 490.58,86.86 490.70,87.37 490.83,87.34 490.95,88.32 491.08,89.56 491.20,88.72 491.33,87.99 491.45,86.59 491.58,87.18 491.70,87.70 491.82,88.11 491.95,88.15 492.07,87.93 492.20,88.08 492.32,89.08 492.45,89.62 492.57,89.54 492.70,89.49 492.82,89.77 492.94,89.57 493.07,89.09 493.19,88.54 493.32,86.96 493.44,87.88 493.57,89.11 493.69,91.42 493.82,91.09 493.94,90.90 494.06,90.72 494.19,91.40 494.31,91.03 494.44,90.99 494.56,91.16 494.69,92.06 494.81,92.79 494.94,90.25 495.06,89.47 495.18,88.70 495.31,90.77 495.43,90.85 495.56,91.93 495.68,92.45 495.81,92.30 495.93,91.51 496.06,91.58 496.18,92.60 496.30,93.20 496.43,92.93 496.55,90.94 496.68,91.20 496.80,92.73 496.93,93.29 497.05,93.56 497.18,93.39 497.30,92.71 497.42,92.35 497.55,92.32 497.67,92.63 497.80,92.63 497.92,93.14 498.05,93.14 498.17,93.77 498.29,93.82 498.42,94.80 498.54,94.56 498.67,95.01 498.79,94.09 498.92,93.67 499.04,94.39 499.17,96.94 499.29,97.15 499.41,94.03 499.54,94.58 499.66,94.64 499.79,94.88 499.91,92.25 500.04,92.31 500.16,92.34 500.29,95.62 500.41,96.34 500.53,97.60 500.66,96.85 500.78,96.77 500.91,99.13 501.03,99.74 501.16,97.79 501.28,97.51 501.41,96.81 501.53,97.47 501.65,97.80 501.78,98.74 501.90,99.37 502.03,98.59 502.15,98.10 502.28,96.52 502.40,96.25 502.53,96.05 502.65,96.42 502.77,97.12 502.90,97.63 503.02,97.66 503.15,98.71 503.27,96.85 503.40,97.62 503.52,96.77 503.65,97.31 503.77,99.09 503.89,99.17 504.02,99.67 504.14,99.09 504.27,99.48 504.39,98.93 504.52,100.08 504.64,100.72 504.77,100.61 504.89,100.30 505.01,99.66 505.14,99.63 505.26,99.21 505.39,99.38 505.51,99.49 505.64,102.80 505.76,102.54 505.88,103.34 506.01,100.74 506.13,101.41 506.26,101.61 506.38,101.63 506.51,100.98 506.63,100.61 506.76,100.72 506.88,101.08 507.00,101.53 507.13,101.59 507.25,102.02 507.38,101.36 507.50,101.09 507.63,101.78 507.75,101.86 507.88,101.94 508.00,99.87 508.12,100.06 508.25,100.63 508.37,102.50 508.50,103.15 508.62,103.27 508.75,102.97 508.87,102.05 509.00,102.12 509.12,102.77 509.24,103.69 509.37,103.21 509.49,103.13 509.62,103.06 509.74,102.94 509.87,100.58 509.99,100.77 510.12,101.28 510.24,103.42 510.36,102.75 510.49,102.81 510.61,102.54 510.74,103.31 510.86,103.49 510.99,103.39 511.11,103.26 511.24,102.83 511.36,103.75 511.48,102.99 511.61,103.49 511.73,104.87 511.86,104.05 511.98,103.41 512.11,102.59 512.23,103.46 512.36,104.49 512.48,105.65 512.60,105.66 512.73,105.37 512.85,105.14 512.98,105.56 513.10,105.92 513.23,105.86 513.35,105.40 513.47,105.47 513.60,107.05 513.72,107.16 513.85,106.67 513.97,107.40 514.10,105.17 514.22,105.02 514.35,105.38 514.47,105.79 514.59,104.43 514.72,104.16 514.84,104.60 514.97,104.75 515.09,107.30 515.22,107.39 515.34,107.62 515.47,107.64 515.59,107.76 515.71,108.25 515.84,105.80 515.96,104.97 516.09,104.42 516.21,106.93 516.34,107.74 516.46,108.34 516.59,108.26 516.71,107.91 516.83,109.19 516.96,109.66 517.08,110.13 517.21,109.90 517.33,106.94 517.46,106.88 517.58,107.54 517.71,108.50 517.83,108.38 517.95,108.50 518.08,107.45 518.20,108.16 518.33,108.46 518.45,107.07 518.58,107.29 518.70,106.96 518.83,107.22 518.95,109.43 519.07,109.19 519.20,110.55 519.32,110.82 519.45,111.34 519.57,110.45 519.70,110.03 519.82,109.91 519.95,110.75 520.07,110.66 520.19,111.93 520.32,110.82 520.44,111.12 520.57,112.53 520.69,112.72 520.82,112.40 520.94,111.70 521.07,111.09 521.19,111.11 521.31,111.87 521.44,112.48 521.56,113.23 521.69,113.02 521.81,112.46 521.94,112.45 522.06,112.09 522.18,112.41 522.31,112.01 522.43,112.35 522.56,111.79 522.68,110.73 522.81,111.33 522.93,111.75 523.06,111.43 523.18,113.06 523.30,113.43 523.43,113.90 523.55,113.52 523.68,114.02 523.80,114.31 523.93,114.86 524.05,114.00 524.18,113.74 524.30,113.68 524.42,113.69 524.55,112.55 524.67,113.07 524.80,114.12 524.92,114.60 525.05,115.43 525.17,115.74 525.30,114.20 525.42,115.19 525.54,114.95 525.67,114.96 525.79,116.75 525.92,117.66 526.04,117.65 526.17,117.06 526.29,116.23 526.42,116.27 526.54,116.41 526.66,118.83 526.79,119.09 526.91,118.96 527.04,117.42 527.16,118.04 527.29,118.09 527.41,118.15 527.54,117.61 527.66,118.04 527.78,117.27 527.91,117.20 528.03,117.67 528.16,118.74 528.28,119.98 528.41,120.78 528.53,120.01 528.66,118.18 528.78,119.27 528.90,120.72 529.03,121.00 529.15,120.99 529.28,119.92 529.40,119.76 529.53,120.37 529.65,121.01 529.77,124.13 529.90,123.26 530.02,123.08 530.15,122.13 530.27,120.30 530.40,120.58 530.52,120.67 530.65,120.98 530.77,120.78 530.89,120.86 531.02,120.64 531.14,120.93 531.27,121.56 531.39,121.58 531.52,121.89 531.64,121.81 531.77,123.43 531.89,123.54 532.01,122.76 532.14,122.42 532.26,120.81 532.39,120.87 532.51,120.78 532.64,120.03 532.76,121.02 532.89,121.36 533.01,121.44 533.13,121.65 533.26,122.25 533.38,122.56 533.51,121.59 533.63,121.72 533.76,124.58 533.88,124.83 534.01,123.86 534.13,124.00 534.25,123.03 534.38,123.40 534.50,122.63 534.63,122.12 534.75,122.24 534.88,123.18 535.00,124.41 535.13,124.76 535.25,124.18 535.37,123.31 535.50,124.12 535.62,123.42 535.75,124.36 535.87,124.18 536.00,123.70 536.12,124.59 536.25,124.67 536.37,125.57 536.49,127.33 536.62,126.78 536.74,126.13 536.87,127.14 536.99,125.39 537.12,125.61 537.24,125.48 537.36,126.60 537.49,126.16 537.61,126.34 537.74,126.07 537.86,126.71 537.99,126.27 538.11,127.72 538.24,128.12 538.36,129.51 538.48,129.13 538.61,129.50 538.73,129.50 538.86,128.38 538.98,128.55 539.11,127.81 539.23,128.82 539.36,128.66 539.48,129.53 539.60,129.17 539.73,129.00 539.85,128.68 539.98,129.30 540.10,129.71 540.23,129.58 540.35,130.40 540.48,130.37 540.60,131.17 540.72,130.03 540.85,130.39 540.97,130.18 541.10,131.16 541.22,131.26 541.35,131.20 541.47,132.36 541.60,131.87 541.72,130.10 541.84,129.67 541.97,129.52 542.09,129.80 542.22,127.73 542.34,128.63 542.47,128.57 542.59,130.09 542.72,129.71 542.84,129.39 542.96,130.26 543.09,130.14 543.21,131.12 543.34,131.09 543.46,130.75 543.59,129.79 543.71,129.81 543.84,130.02 543.96,129.72 544.08,130.81 544.21,130.70 544.33,130.88 544.46,128.44 544.58,129.73 544.71,130.33 544.83,131.03 544.95,132.85 545.08,133.06 545.20,133.31 545.33,133.43 545.45,133.38 545.58,133.19 545.70,133.59 545.83,133.19 545.95,133.75 546.07,131.24 546.20,131.38 546.32,132.08 546.45,132.48 546.57,133.20 546.70,133.53 546.82,134.48 546.95,134.79 547.07,134.03 547.19,133.27 547.32,133.33 547.44,134.65 547.57,134.71 547.69,133.90 547.82,132.84 547.94,133.16 548.07,134.33 548.19,135.25 548.31,135.14 548.44,135.16 548.56,135.18 548.69,136.28 548.81,136.20 548.94,134.19 549.06,134.84 549.19,134.68 549.31,134.94 549.43,134.97 549.56,135.31 549.68,133.42 549.81,133.73 549.93,135.86 550.06,136.65 550.18,136.89 550.31,136.33 550.43,135.39 550.55,135.43 550.68,135.48 550.80,135.79 550.93,135.34 551.05,135.42 551.18,136.04 551.30,136.80 551.43,134.64 551.55,134.44 551.67,136.25 551.80,136.78 551.92,137.28 552.05,136.48 552.17,135.81 552.30,136.19 552.42,137.09 552.55,136.87 552.67,136.56 552.79,136.74 552.92,139.09 553.04,139.32 553.17,136.98 553.29,138.00 553.42,138.10 553.54,138.10 553.66,137.62 553.79,138.13 553.91,138.20 554.04,140.61 554.16,140.80 554.29,140.95 554.41,141.06 554.54,137.82 554.66,138.54 554.78,138.37 554.91,140.03 555.03,140.14 555.16,140.25 555.28,139.32 555.41,139.57 555.53,140.44 555.66,140.67 555.78,141.07 555.90,141.07 556.03,141.32 556.15,140.52 556.28,141.79 556.40,141.89 556.53,141.97 556.65,141.01 556.78,140.83 556.90,141.23 557.02,140.76 557.15,141.53 557.27,141.63 557.40,141.48 557.52,141.26 557.65,141.03 557.77,141.01 557.90,141.01 558.02,141.48 558.14,141.75 558.27,141.89 558.39,142.65 558.52,142.55 558.64,142.27 558.77,141.65 558.89,142.15 559.02,142.29 559.14,142.30 559.26,142.35 559.39,143.30 559.51,143.21 559.64,142.42 559.76,141.93 559.89,142.36 560.01,142.88 560.14,145.03 560.26,145.68 560.38,145.18 560.51,146.08 560.63,142.87 560.76,143.42 560.88,142.95 561.01,144.87 561.13,144.33 561.25,144.23 561.38,142.40 561.50,142.57 561.63,142.54 561.75,142.10 561.88,142.33 562.00,143.00 562.13,144.13 562.25,144.54 562.37,144.08 562.50,144.17 562.62,144.51 562.75,144.24 562.87,143.89 563.00,143.67 563.12,144.07 563.25,142.31 563.37,142.29 563.49,143.09 563.62,142.93 563.74,142.93 563.87,143.85 563.99,144.59 564.12,145.24 564.24,144.47 564.37,143.69 564.49,142.88 564.61,142.87 564.74,142.32 564.86,143.54 564.99,143.37 565.11,144.40 565.24,143.76 565.36,143.81 565.49,144.79 565.61,145.23 565.73,146.12 565.86,145.73 565.98,144.20 566.11,143.58 566.23,143.16 566.36,142.80 566.48,145.09 566.61,145.26 566.73,145.15 566.85,144.26 566.98,144.61 567.10,143.96 567.23,144.88 567.35,145.52 567.48,145.95 567.60,146.04 567.73,147.75 567.85,148.03 567.97,148.60 568.10,149.52 568.22,148.27 568.35,147.93 568.47,147.20 568.60,147.23 568.72,148.28 568.84,148.69 568.97,149.55 569.09,149.24 569.22,150.20 569.34,150.32 569.47,150.23 569.59,150.33 569.72,150.12 569.84,151.27 569.96,150.75 570.09,149.44 570.21,149.18 570.34,151.27 570.46,150.58 570.59,150.13 570.71,150.48 570.84,151.54 570.96,151.95 571.08,152.76 571.21,152.82 571.33,153.52 571.46,153.24 571.58,153.21 571.71,153.08 571.83,153.46 571.96,153.93 572.08,154.00 572.20,153.47 572.33,150.85 572.45,151.03 572.58,153.69 572.70,152.92 572.83,152.93 572.95,152.75 573.08,152.85 573.20,152.33 573.32,152.42 573.45,152.68 573.57,153.43 573.70,153.99 573.82,154.95 573.95,154.78 574.07,153.67 574.20,153.68 574.32,153.92 574.44,154.27 574.57,154.22 574.69,156.05 574.82,156.93 574.94,154.64 575.07,154.41 575.19,154.14 575.32,153.85 575.44,153.14 575.56,152.70 575.69,152.52 575.81,152.52 575.94,153.30 576.06,154.65 576.19,155.91 576.31,156.19 576.43,155.57 576.56,154.76 576.68,154.12 576.81,154.72 576.93,155.95 577.06,157.49 577.18,157.91 577.31,156.55 577.43,156.52 577.55,155.50 577.68,155.28 577.80,155.38 577.93,156.25 578.05,156.17 578.18,156.72 578.30,156.45 578.43,156.20 578.55,155.79 578.67,155.93 578.80,155.81 578.92,156.42 579.05,156.80 579.17,158.04 579.30,157.56 579.42,157.57 579.55,158.59 579.67,159.96 579.79,159.19 579.92,160.26 580.04,159.88 580.17,159.58 580.29,158.42 580.42,158.67 580.54,159.60 580.67,160.25 580.79,160.55 580.91,159.87 581.04,159.15 581.16,159.06 581.29,158.94 581.41,159.64 581.54,159.91 581.66,159.93 581.79,159.86 581.91,156.98 582.03,157.01 582.16,160.04 582.28,160.79 582.41,160.67 582.53,160.80 582.66,160.72 582.78,160.57 582.91,159.50 583.03,158.87 583.15,158.85 583.28,158.88 583.40,159.07 583.53,159.29 583.65,159.53 583.78,159.38 583.90,161.62 584.03,161.72 584.15,160.20 584.27,160.70 584.40,160.83 584.52,161.05 584.65,160.49 584.77,160.40 584.90,159.07 585.02,159.77 585.14,159.61 585.27,158.81 585.39,159.76 585.52,159.76 585.64,160.15 585.77,160.38 585.89,160.14 586.02,160.21 586.14,160.72 586.26,160.63 586.39,161.29 586.51,160.45 586.64,161.50 586.76,160.36 586.89,162.35 587.01,162.46 587.14,163.26 587.26,163.66 587.38,161.54 587.51,160.63 587.63,159.94 587.76,159.45 587.88,159.41 588.01,159.74 588.13,160.02 588.26,159.83 588.38,160.01 588.50,159.89 588.63,161.03 588.75,161.26 588.88,161.37 589.00,160.87 589.13,161.26 589.25,160.35 589.38,160.22 589.50,160.65 589.62,161.17 589.75,159.94 589.87,160.45 590.00,160.92 590.12,161.26 590.25,161.02 590.37,160.56 590.50,160.11 590.62,160.29 590.74,160.40 590.87,158.56 590.99,159.19 591.12,159.15 591.24,161.03 591.37,161.15 591.49,161.56 591.62,161.84 591.74,161.71 591.86,161.46 591.99,161.56 592.11,161.36 592.24,161.29 592.36,162.16 592.49,162.26 592.61,161.94 592.73,161.93 592.86,162.63 592.98,163.99 593.11,161.72 593.23,161.92 593.36,161.29 593.48,161.07 593.61,162.18 593.73,162.52 593.85,162.50 593.98,162.79 594.10,161.83 594.23,161.50 594.35,160.66 594.48,160.79 594.60,160.58 594.73,160.60 594.85,161.06 594.97,162.16 595.10,161.39 595.22,161.91 595.35,162.05 595.47,162.87 595.60,162.28 595.72,162.56 595.85,163.08 595.97,163.41 596.09,163.01 596.22,163.27 596.34,163.82 596.47,163.88 596.59,164.17 596.72,163.98 596.84,165.29 596.97,166.01 597.09,166.20 597.21,163.54 597.34,164.06 597.46,165.25 597.59,168.44 597.71,167.75 597.84,167.91 597.96,167.94 598.09,168.62 598.21,168.51 598.33,167.88 598.46,167.78 598.58,168.13 598.71,169.00 598.83,168.90 598.96,169.44 599.08,169.23 599.21,169.73 599.33,169.39 599.45,169.41 599.58,169.90 599.70,170.71 599.83,174.17 599.95,175.16 600.08,174.50 600.20,174.13 600.32,172.11 600.45,171.92 600.57,171.50 600.70,171.13 600.82,172.06 600.95,171.94 601.07,171.59 601.20,172.34 601.32,172.26 601.44,172.90 601.57,172.30 601.69,173.35 601.82,173.11 601.94,172.85 602.07,172.84 602.19,175.15 602.32,175.54 602.44,175.35 602.56,175.06 602.69,172.79 602.81,172.81 602.94,172.63 603.06,172.14 603.19,172.34 603.31,173.09 603.44,173.97 603.56,172.42 603.68,171.49 603.81,171.60 603.93,172.14 604.06,174.85 604.18,174.41 604.31,173.34 604.43,172.79 604.56,173.47 604.68,174.24 604.80,173.98 604.93,173.87 605.05,173.85 605.18,172.79 605.30,171.95 605.43,171.86 605.55,173.63 605.68,173.67 605.80,173.44 605.92,173.42 606.05,173.90 606.17,174.35 606.30,174.25 606.42,174.27 606.55,173.91 606.67,173.84 606.80,173.48 606.92,173.94 607.04,173.12 607.17,173.44 607.29,173.19 607.42,174.31 607.54,175.39 607.67,175.39 607.79,174.65 607.91,174.02 608.04,172.93 608.16,172.71 608.29,172.80 608.41,171.78 608.54,171.49 608.66,171.66 608.79,171.75 608.91,172.05 609.03,172.93 609.16,172.63 609.28,172.49 609.41,171.61 609.53,171.93 609.66,171.65 609.78,172.05 609.91,171.58 610.03,170.46 610.15,170.41 610.28,172.98 610.40,172.93 610.53,172.72 610.65,173.10 610.78,173.18 610.90,173.73 611.03,174.49 611.15,174.90 611.27,174.41 611.40,174.38 611.52,174.27 611.65,174.27 611.77,173.98 611.90,173.45 612.02,173.56 612.15,173.13 612.27,172.69 612.39,173.11 612.52,173.77 612.64,172.10 612.77,172.43 612.89,172.51 613.02,172.71 613.14,173.94 613.27,173.76 613.39,173.09 613.51,172.83 613.64,172.78 613.76,173.27 613.89,174.09 614.01,174.05 614.14,175.49 614.26,175.77 614.39,176.35 614.51,175.50 614.63,176.10 614.76,176.69 614.88,176.79 615.01,177.56 615.13,177.47 615.26,177.21 615.38,178.79 615.51,179.87 615.63,180.61 615.75,180.73 615.88,180.81 616.00,181.58 616.13,181.88 616.25,181.72 616.38,181.30 616.50,180.76 616.62,181.34 616.75,181.92 616.87,182.57 617.00,185.00 617.12,184.94 617.25,182.91 617.37,182.73 617.50,182.64 617.62,181.83 617.74,181.67 617.87,181.69 617.99,184.43 618.12,183.89 618.24,183.39 618.37,180.70 618.49,180.72 618.62,180.63 618.74,181.08 618.86,181.10 618.99,180.95 619.11,180.64 619.24,180.80 619.36,181.25 619.49,182.02 619.61,182.88 619.74,180.75 619.86,180.29 619.98,179.84 620.11,182.72 620.23,183.24 620.36,183.20 620.48,182.40 620.61,182.32 620.73,182.70 620.86,182.66 620.98,181.88 621.10,181.31 621.23,181.04 621.35,182.87 621.48,182.83 621.60,183.11 621.73,183.80 621.85,181.31 621.98,181.49 622.10,181.33 622.22,181.68 622.35,181.46 622.47,181.25 622.60,181.55 622.72,182.22 622.85,182.27 622.97,181.78 623.10,182.81 623.22,182.92 623.34,181.83 623.47,181.21 623.59,181.59 623.72,181.70 623.84,181.71 623.97,181.82 624.09,181.29 624.21,181.08 624.34,180.23 624.46,180.24 624.59,180.75 624.71,181.79 624.84,181.81 624.96,182.41 625.09,181.61 625.21,181.52 625.33,181.09 625.46,181.88 625.58,183.99 625.71,183.87 625.83,181.47 625.96,181.21 626.08,182.11 626.21,182.22 626.33,182.04 626.45,181.15 626.58,181.26 626.70,183.84 626.83,184.16 626.95,184.75 627.08,182.78 627.20,182.93 627.33,182.77 627.45,181.81 627.57,179.18 627.70,178.25 627.82,178.23 627.95,178.31 628.07,181.62 628.20,181.77 628.32,179.39 628.45,179.61 628.57,180.20 628.69,182.14 628.82,182.25 628.94,182.36 629.07,183.31 629.19,183.38 629.32,184.73 629.44,183.93 629.57,183.97 629.69,182.39 629.81,183.03 629.94,182.41 630.06,182.28 630.19,180.59 630.31,179.95 630.44,180.83 630.56,181.74 630.69,183.59 630.81,184.42 630.93,184.35 631.06,185.56 631.18,185.15 631.31,185.87 631.43,185.98 631.56,189.51 631.68,190.01 631.80,189.25 631.93,189.06 632.05,189.74 632.18,190.28 632.30,191.02 632.43,191.61 632.55,191.70 632.68,191.43 632.80,192.62 632.92,191.65 633.05,192.18 633.17,192.47 633.30,191.50 633.42,191.22 633.55,190.98 633.67,191.09 633.80,191.07 633.92,190.45 634.04,189.68 634.17,191.64 634.29,191.73 634.42,190.24 634.54,190.89 634.67,190.95 634.79,190.02 634.92,189.48 635.04,190.01 635.16,191.18 635.29,191.88 635.41,191.92 635.54,191.85 635.66,191.40 635.79,190.82 635.91,190.67 636.04,189.43 636.16,189.75 636.28,189.85 636.41,191.03 636.53,191.78 636.66,191.48 636.78,191.71 636.91,190.62 637.03,190.94 637.16,190.70 637.28,190.62 637.40,192.45 637.53,192.06 637.65,190.15 637.78,189.89 637.90,190.38 638.03,190.65 638.15,191.47 638.28,191.40 638.40,191.96 638.52,191.99 638.65,191.39 638.77,190.62 638.90,189.82 639.02,190.89 639.15,190.58 639.27,190.60 639.39,190.24 639.52,190.40 639.64,191.24 639.77,193.18 639.89,193.22 640.02,190.02 640.14,190.31 640.27,190.85 640.39,191.57 640.51,191.26 640.64,190.91 640.76,190.69 640.89,190.48 641.01,190.22 641.14,190.32 641.26,190.45 641.39,191.30 641.51,192.16 641.63,191.88 641.76,192.10 641.88,189.23 642.01,189.14 642.13,188.22 642.26,188.17 642.38,189.70 642.51,190.34 642.63,191.32 642.75,192.46 642.88,192.99 643.00,192.38 643.13,192.28 643.25,191.68 643.38,192.29 643.50,192.28 643.63,191.85 643.75,192.15 643.87,191.71 644.00,191.54 644.12,190.88 644.25,191.02 644.37,189.20 644.50,189.36 644.62,192.32 644.75,192.20 644.87,192.32 644.99,191.91 645.12,191.83 645.24,191.74 645.37,191.93 645.49,191.44 645.62,191.74 645.74,191.55 645.87,192.53 645.99,193.13 646.11,193.53 646.24,194.23 646.36,193.87 646.49,193.93 646.61,195.69 646.74,196.53 646.86,195.44 646.98,196.62 647.11,196.38 647.23,196.71 647.36,196.65 647.48,197.09 647.61,197.16 647.73,196.47 647.86,196.80 647.98,196.35 648.10,196.13 648.23,195.71 648.35,195.47 648.48,196.82 648.60,197.03 648.73,197.32 648.85,197.23 648.98,197.78 649.10,197.68 649.22,198.11 649.35,197.39 649.47,198.45 649.60,200.15 649.72,200.62 649.85,200.35 649.97,198.12 650.10,197.49 650.22,197.60 650.34,197.99 650.47,198.70 650.59,198.31 650.72,197.54 650.84,197.13 650.97,196.67 651.09,195.34 651.22,195.75 651.34,195.63 651.46,197.97 651.59,197.53 651.71,198.39 651.84,198.23 651.96,199.00 652.09,199.54 652.21,199.68 652.34,199.23 652.46,198.99 652.58,199.04 652.71,199.01 652.83,199.29 652.96,198.47 653.08,197.93 653.21,196.66 653.33,196.00 653.46,197.33 653.58,197.49 653.70,196.58 653.83,197.57 653.95,198.17 654.08,198.07 654.20,198.03 654.33,197.34 654.45,198.25 654.58,197.93 654.70,197.69 654.82,196.57 654.95,196.18 655.07,196.94 655.20,196.65 655.32,198.78 655.45,199.33 655.57,199.67 655.69,199.82 655.82,199.13 655.94,199.01 656.07,198.59 656.19,198.51 656.32,198.95 656.44,199.15 656.57,199.60 656.69,199.22 656.81,199.21 656.94,199.26 657.06,199.15 657.19,199.58 657.31,199.41 657.44,201.39 657.56,201.13 657.69,199.45 657.81,199.28 657.93,198.84 658.06,198.26 658.18,198.21 658.31,198.75 658.43,199.02 658.56,199.18 658.68,198.31 658.81,197.80 658.93,198.17 659.05,198.72 659.18,198.84 659.30,198.85 659.43,199.46 659.55,199.50 659.68,198.82 659.80,195.84 659.93,195.39 660.05,195.49 660.17,197.84 660.30,197.98 660.42,198.80 660.55,198.39 660.67,198.89 660.80,198.44 660.92,198.40 661.05,198.26 661.17,198.71 661.29,198.67 661.42,199.44 661.54,201.65 661.67,201.74 661.79,201.93 661.92,201.77 662.04,200.43 662.17,199.89 662.29,200.61 662.41,200.68 662.54,200.69 662.66,200.57 662.79,199.60 662.91,199.97 663.04,199.28 663.16,200.33 663.28,201.09 663.41,202.55 663.53,203.18 663.66,203.18 663.78,202.94 663.91,205.71 664.03,206.53 664.16,206.00 664.28,205.54 664.40,206.60 664.53,207.49 664.65,208.09 664.78,207.73 664.90,206.41 665.03,204.53 665.15,203.08 665.28,202.79 665.40,202.22 665.52,202.00 665.65,199.42 665.77,199.63 665.90,198.30 666.02,197.69 666.15,198.91 666.27,199.54 666.40,199.73 666.52,200.64 666.64,200.40 666.77,200.71 666.89,200.04 667.02,200.42 667.14,200.03 667.27,201.06 667.39,200.99 667.52,200.79 667.64,200.44 667.76,200.17 667.89,200.43 668.01,199.84 668.14,202.71 668.26,203.11 668.39,201.20 668.51,200.15 668.64,200.14 668.76,200.70 668.88,200.78 669.01,203.17 669.13,202.36 669.26,200.82 669.38,200.45 669.51,201.59 669.63,201.83 669.76,202.53 669.88,202.36 670.00,201.85 670.13,200.92 670.25,200.41 670.38,200.37 670.50,201.03 670.63,201.86 670.75,202.79 670.87,201.44 671.00,201.62 671.12,201.80 671.25,199.95 671.37,199.03 671.50,198.80 671.62,199.28 671.75,201.11 671.87,201.25 671.99,201.68 672.12,201.66 672.24,201.44 672.37,201.94 672.49,202.04 672.62,201.52 672.74,201.36 672.87,202.36 672.99,202.95 673.11,203.66 673.24,202.42 673.36,202.24 673.49,203.43 673.61,202.29 673.74,203.07 673.86,202.90 673.99,202.85 674.11,202.85 674.23,202.56 674.36,202.82 674.48,202.19 674.61,202.37 674.73,202.40 674.86,200.96 674.98,200.38 675.11,201.35 675.23,200.82 675.35,200.91 675.48,201.53 675.60,202.28 675.73,202.53 675.85,202.07 675.98,200.10 676.10,199.28 676.23,201.50 676.35,200.98 676.47,201.34 676.60,202.18 676.72,204.59 676.85,205.38 676.97,203.62 677.10,203.42 677.22,202.95 677.35,202.06 677.47,201.93 677.59,202.90 677.72,204.23 677.84,204.49 677.97,204.08 678.09,204.04 678.22,203.64 678.34,203.51 678.46,203.69 678.59,204.31 678.71,205.35 678.84,206.27 678.96,205.41 679.09,204.86 679.21,203.04 679.34,203.34 679.46,203.56 679.58,204.28 679.71,205.09 679.83,206.76 679.96,205.84 680.08,204.01 680.21,204.03 680.33,203.98 680.46,204.46 680.58,203.87 680.70,204.74 680.83,204.75 680.95,205.79 681.08,206.14 681.20,206.25 681.33,206.00 681.45,206.91 681.58,207.22 681.70,207.94 681.82,208.06 681.95,210.13 682.07,210.18 682.20,208.71 682.32,209.77 682.45,209.17 682.57,209.08 682.70,208.52 682.82,209.05 682.94,207.81 683.07,207.72 683.19,207.68 683.32,207.68 683.44,207.35 683.57,207.29 683.69,207.23 683.82,207.03 683.94,206.89 684.06,209.84 684.19,209.94 684.31,209.65 684.44,209.72 684.56,206.95 684.69,207.35 684.81,206.62 684.94,206.75 685.06,207.06 685.18,206.92 685.31,207.48 685.43,208.85 685.56,209.72 685.68,209.62 685.81,208.95 685.93,206.74 686.06,206.01 686.18,205.80 686.30,205.61 686.43,205.02 686.55,204.92 686.68,204.55 686.80,205.37 686.93,204.01 687.05,203.21 687.17,203.13 687.30,204.88 687.42,205.47 687.55,205.66 687.67,205.81 687.80,204.95 687.92,204.87 688.05,204.04 688.17,204.74 688.29,204.67 688.42,204.21 688.54,203.19 688.67,202.10 688.79,202.50 688.92,203.57 689.04,203.89 689.17,204.03 689.29,203.46 689.41,205.45 689.54,204.94 689.66,204.93 689.79,204.57 689.91,202.17 690.04,201.92 690.16,201.27 690.29,201.63 690.41,201.80 690.53,202.03 690.66,201.54 690.78,201.01 690.91,202.05 691.03,201.76 691.16,201.37 691.28,200.55 691.41,200.82 691.53,201.85 691.65,201.48 691.78,201.03 691.90,200.25 692.03,199.12 692.15,199.33 692.28,199.69 692.40,201.06 692.53,201.75 692.65,200.94 692.77,201.01 692.90,200.83 693.02,201.50 693.15,201.75 693.27,202.42 693.40,202.51 693.52,200.99 693.65,201.62 693.77,201.75 693.89,201.52 694.02,200.32 694.14,200.24 694.27,199.71 694.39,200.30 694.52,198.97 694.64,198.83 694.76,199.09 694.89,200.23 695.01,200.49 695.14,200.01 695.26,198.71 695.39,198.28 695.51,197.67 695.64,196.43 695.76,196.27 695.88,198.69 696.01,198.07 696.13,197.89 696.26,198.86 696.38,199.18 696.51,201.99 696.63,201.03 696.76,200.70 696.88,198.35 697.00,197.94 697.13,198.08 697.25,198.67 697.38,198.85 697.50,198.98 697.63,197.81 697.75,197.38 697.88,196.73 698.00,198.75" stroke="#8b1fd6" stroke-width="2.2" fill="none" stroke-linejoin="round"/><line x1="98.78" y1="215.20" x2="98.78" y2="211.00" class="t"/><line x1="98.78" y1="4.50" x2="98.78" y2="8.70" class="t"/><line x1="158.76" y1="215.20" x2="158.76" y2="211.00" class="t"/><line x1="158.76" y1="4.50" x2="158.76" y2="8.70" class="t"/><line x1="218.74" y1="215.20" x2="218.74" y2="211.00" class="t"/><line x1="218.74" y1="4.50" x2="218.74" y2="8.70" class="t"/><line x1="278.72" y1="215.20" x2="278.72" y2="211.00" class="t"/><line x1="278.72" y1="4.50" x2="278.72" y2="8.70" class="t"/><line x1="38.80" y1="173.06" x2="43.00" y2="173.06" class="t"/><line x1="338.70" y1="173.06" x2="334.50" y2="173.06" class="t"/><line x1="38.80" y1="130.92" x2="43.00" y2="130.92" class="t"/><line x1="338.70" y1="130.92" x2="334.50" y2="130.92" class="t"/><line x1="38.80" y1="88.78" x2="43.00" y2="88.78" class="t"/><line x1="338.70" y1="88.78" x2="334.50" y2="88.78" class="t"/><line x1="38.80" y1="46.64" x2="43.00" y2="46.64" class="t"/><line x1="338.70" y1="46.64" x2="334.50" y2="46.64" class="t"/><line x1="458.96" y1="215.20" x2="458.96" y2="211.00" class="t"/><line x1="458.96" y1="4.40" x2="458.96" y2="8.60" class="t"/><line x1="518.82" y1="215.20" x2="518.82" y2="211.00" class="t"/><line x1="518.82" y1="4.40" x2="518.82" y2="8.60" class="t"/><line x1="578.68" y1="215.20" x2="578.68" y2="211.00" class="t"/><line x1="578.68" y1="4.40" x2="578.68" y2="8.60" class="t"/><line x1="638.54" y1="215.20" x2="638.54" y2="211.00" class="t"/><line x1="638.54" y1="4.40" x2="638.54" y2="8.60" class="t"/><line x1="399.10" y1="39.53" x2="403.30" y2="39.53" class="t"/><line x1="698.40" y1="39.53" x2="694.20" y2="39.53" class="t"/><line x1="399.10" y1="74.67" x2="403.30" y2="74.67" class="t"/><line x1="698.40" y1="74.67" x2="694.20" y2="74.67" class="t"/><line x1="399.10" y1="109.80" x2="403.30" y2="109.80" class="t"/><line x1="698.40" y1="109.80" x2="694.20" y2="109.80" class="t"/><line x1="399.10" y1="144.93" x2="403.30" y2="144.93" class="t"/><line x1="698.40" y1="144.93" x2="694.20" y2="144.93" class="t"/><line x1="399.10" y1="180.07" x2="403.30" y2="180.07" class="t"/><line x1="698.40" y1="180.07" x2="694.20" y2="180.07" class="t"/><rect x="38.80" y="4.50" width="299.90" height="210.70" class="f"/><rect x="399.10" y="4.40" width="299.30" height="210.80" class="f"/><text class="tl" transform="translate(39.60,228) scale(1,1.09)" text-anchor="middle">0</text><text class="tl" transform="translate(99.58,228) scale(1,1.09)" text-anchor="middle">2</text><text class="tl" transform="translate(159.56,228) scale(1,1.09)" text-anchor="middle">4</text><text class="tl" transform="translate(219.54,228) scale(1,1.09)" text-anchor="middle">6</text><text class="tl" transform="translate(279.52,228) scale(1,1.09)" text-anchor="middle">8</text><text class="tl" transform="translate(339.50,228) scale(1,1.09)" text-anchor="middle">10</text><text class="tl" transform="translate(33.3,218.80) scale(1,1.09)" text-anchor="end">0</text><text class="tl" transform="translate(33.3,176.66) scale(1,1.09)" text-anchor="end">2</text><text class="tl" transform="translate(33.3,134.52) scale(1,1.09)" text-anchor="end">4</text><text class="tl" transform="translate(33.3,92.38) scale(1,1.09)" text-anchor="end">6</text><text class="tl" transform="translate(33.3,50.24) scale(1,1.09)" text-anchor="end">8</text><text class="tl" transform="translate(33.3,8.10) scale(1,1.09)" text-anchor="end">10</text><text class="tl" transform="translate(399.90,228) scale(1,1.09)" text-anchor="middle">0</text><text class="tl" transform="translate(459.76,228) scale(1,1.09)" text-anchor="middle">2</text><text class="tl" transform="translate(519.62,228) scale(1,1.09)" text-anchor="middle">4</text><text class="tl" transform="translate(579.48,228) scale(1,1.09)" text-anchor="middle">6</text><text class="tl" transform="translate(639.34,228) scale(1,1.09)" text-anchor="middle">8</text><text class="tl" transform="translate(699.20,228) scale(1,1.09)" text-anchor="middle">10</text><text class="tl" transform="translate(393.3,8.00) scale(1,1.09)" text-anchor="end">0</text><text class="tl" transform="translate(393.3,43.13) scale(1,1.09)" text-anchor="end">-2</text><text class="tl" transform="translate(393.3,78.27) scale(1,1.09)" text-anchor="end">-4</text><text class="tl" transform="translate(393.3,113.40) scale(1,1.09)" text-anchor="end">-6</text><text class="tl" transform="translate(393.3,148.53) scale(1,1.09)" text-anchor="end">-8</text><text class="tl" transform="translate(393.3,183.67) scale(1,1.09)" text-anchor="end">-10</text><text class="tl" transform="translate(393.3,218.80) scale(1,1.09)" text-anchor="end">-12</text><text class="al" x="188.5" y="243" text-anchor="middle">t, [s]</text><text class="al" x="548.8" y="243" text-anchor="middle">t, [s]</text><text class="al" transform="translate(10.3,109.7) rotate(-90)" text-anchor="middle">T<tspan font-size="10px" dy="3.5">e</tspan><tspan dy="-3.5"> [keV]</tspan></text><text class="al" transform="translate(370.5,109.7) rotate(-90)" text-anchor="middle">I<tspan font-size="10px" dy="3.5">tor</tspan><tspan dy="-3.5">, [kA]</tspan></text><text class="lg" transform="translate(165.8,22) scale(1,1.07)">T<tspan font-size="14.4px" dy="4.7">e</tspan><tspan dy="-4.7"> (ECE13)</tspan></text><line x1="273.3" y1="17.7" x2="321.8" y2="17.7" stroke="#8b1fd6" stroke-width="1.3" opacity="0.9"/><text class="lg" transform="translate(165.8,40.7) scale(1,1.07)">T<tspan font-size="14.4px" dy="4.7">e</tspan><tspan dy="-4.7"> (ECE24)</tspan></text><line x1="273.3" y1="36.3" x2="321.8" y2="36.3" stroke="#34976d" stroke-width="1.3" opacity="0.9"/><text class="lg" transform="translate(165.8,59.4) scale(1,1.07)">T<tspan font-size="14.4px" dy="4.7">e</tspan><tspan dy="-4.7"> (ECE29)</tspan></text><line x1="273.3" y1="55.0" x2="321.8" y2="55.0" stroke="#2a6db3" stroke-width="1.3" opacity="0.9"/><text x="629.5" y="17.9" style="font-size:13px">I<tspan font-size="10.4px" dy="3.2">tor</tspan></text><line x1="652" y1="14.5" x2="686" y2="14.5" stroke="#8b1fd6" stroke-width="2.6"/></g></svg>
</body></html>
